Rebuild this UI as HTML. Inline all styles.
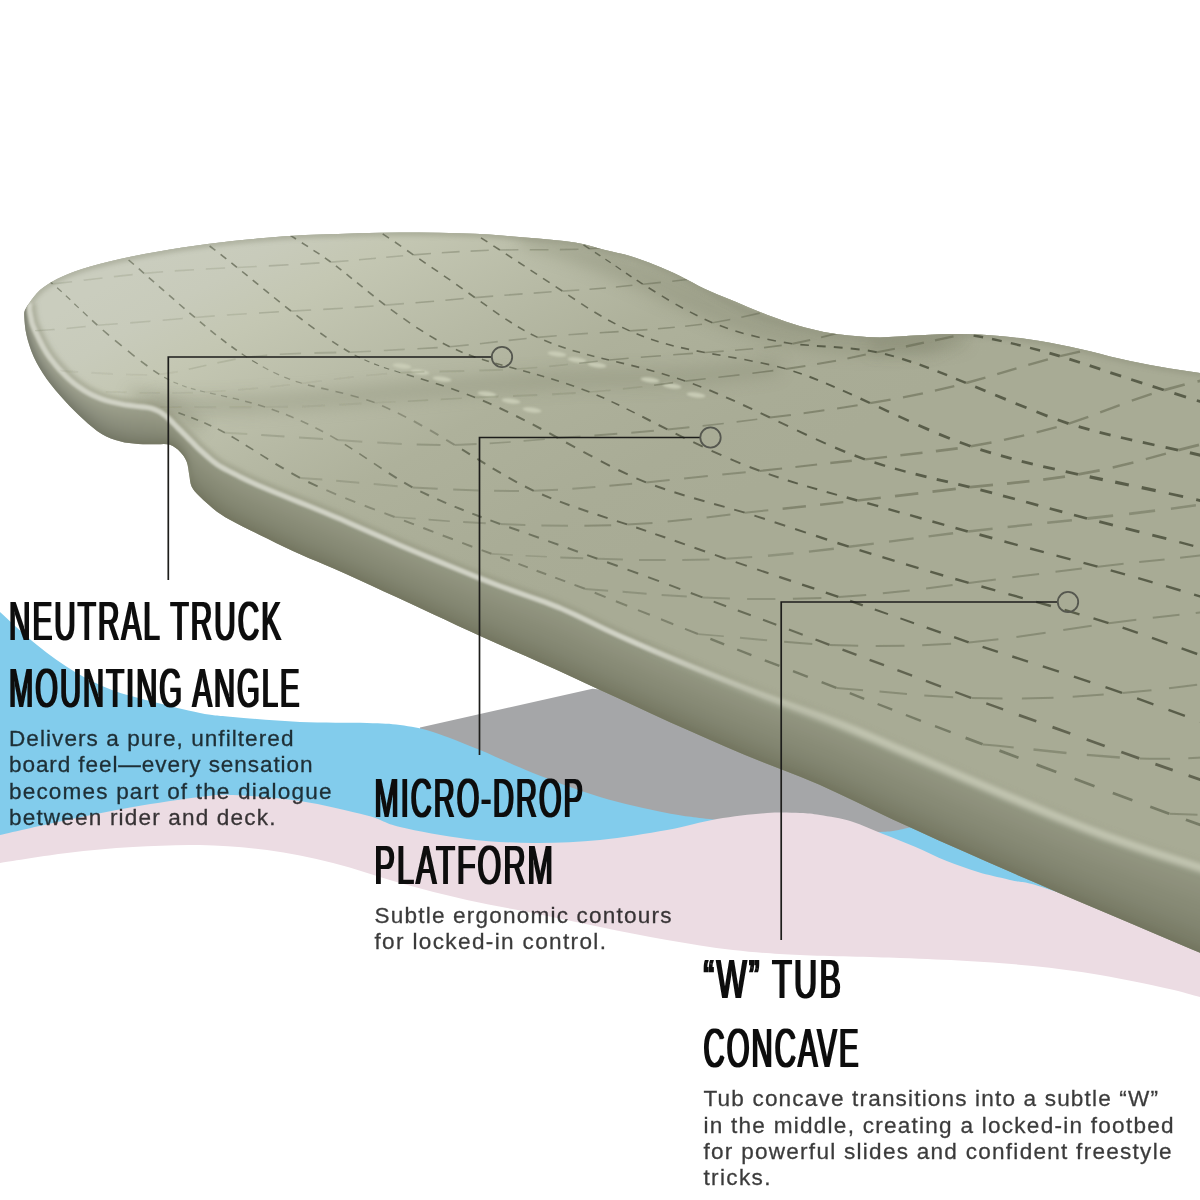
<!DOCTYPE html>
<html lang="en">
<head>
<meta charset="utf-8">
<title>Deck features</title>
<style>
html,body{margin:0;padding:0;background:#fff;}
body{width:1200px;height:1200px;overflow:hidden;}
svg{display:block;}
.h{font-family:"Liberation Sans",sans-serif;font-weight:normal;fill:#0b0b0b;filter:url(#thick);letter-spacing:0.07em;}
.b{font-family:"Liberation Sans",sans-serif;font-size:21.6px;fill:#000;stroke:#000;stroke-width:0.3;opacity:0.77;}
.ann path{fill:none;stroke:#1d1d1b;stroke-width:1.7;}
.ann circle{fill:none;stroke:#55574f;stroke-width:1.8;}
</style>
</head>
<body>
<svg width="1200" height="1200" viewBox="0 0 1200 1200">
<defs>
<linearGradient id="gFace" gradientUnits="userSpaceOnUse" x1="100" y1="288.7" x2="350" y2="721.7">
<stop offset="0" stop-color="#cacdbe"/>
<stop offset="0.1" stop-color="#c8cbbb"/>
<stop offset="0.21" stop-color="#c4c7b3"/>
<stop offset="0.45" stop-color="#b6b9a4"/>
<stop offset="0.6" stop-color="#aeb19b"/>
<stop offset="0.85" stop-color="#a9ac96"/>
<stop offset="1" stop-color="#a8ab95"/>
</linearGradient>
<linearGradient id="gs0" gradientUnits="userSpaceOnUse" x1="30" y1="0" x2="210" y2="0"><stop offset="0" stop-color="#a8ab99"/><stop offset="1" stop-color="#949783"/></linearGradient>
<linearGradient id="gs1" gradientUnits="userSpaceOnUse" x1="30" y1="0" x2="210" y2="0"><stop offset="0" stop-color="#a5a896"/><stop offset="1" stop-color="#929681"/></linearGradient>
<linearGradient id="gs2" gradientUnits="userSpaceOnUse" x1="30" y1="0" x2="210" y2="0"><stop offset="0" stop-color="#a3a694"/><stop offset="1" stop-color="#91947f"/></linearGradient>
<linearGradient id="gs3" gradientUnits="userSpaceOnUse" x1="30" y1="0" x2="210" y2="0"><stop offset="0" stop-color="#a0a391"/><stop offset="1" stop-color="#8f927d"/></linearGradient>
<linearGradient id="gs4" gradientUnits="userSpaceOnUse" x1="30" y1="0" x2="210" y2="0"><stop offset="0" stop-color="#9ea18f"/><stop offset="1" stop-color="#8e907c"/></linearGradient>
<linearGradient id="gs5" gradientUnits="userSpaceOnUse" x1="30" y1="0" x2="210" y2="0"><stop offset="0" stop-color="#9b9e8d"/><stop offset="1" stop-color="#8c8f7a"/></linearGradient>
<linearGradient id="gs6" gradientUnits="userSpaceOnUse" x1="30" y1="0" x2="210" y2="0"><stop offset="0" stop-color="#989b8a"/><stop offset="1" stop-color="#8a8d78"/></linearGradient>
<linearGradient id="gs7" gradientUnits="userSpaceOnUse" x1="30" y1="0" x2="210" y2="0"><stop offset="0" stop-color="#959888"/><stop offset="1" stop-color="#888b76"/></linearGradient>
<linearGradient id="gs8" gradientUnits="userSpaceOnUse" x1="30" y1="0" x2="210" y2="0"><stop offset="0" stop-color="#929586"/><stop offset="1" stop-color="#878a75"/></linearGradient>
<linearGradient id="gs9" gradientUnits="userSpaceOnUse" x1="30" y1="0" x2="210" y2="0"><stop offset="0" stop-color="#8f9283"/><stop offset="1" stop-color="#858873"/></linearGradient>
<linearGradient id="gs10" gradientUnits="userSpaceOnUse" x1="30" y1="0" x2="210" y2="0"><stop offset="0" stop-color="#8c8f80"/><stop offset="1" stop-color="#838671"/></linearGradient>
<linearGradient id="gs11" gradientUnits="userSpaceOnUse" x1="30" y1="0" x2="210" y2="0"><stop offset="0" stop-color="#888b7c"/><stop offset="1" stop-color="#81846f"/></linearGradient>
<linearGradient id="gs12" gradientUnits="userSpaceOnUse" x1="30" y1="0" x2="210" y2="0"><stop offset="0" stop-color="#848779"/><stop offset="1" stop-color="#7e816c"/></linearGradient>
<linearGradient id="gs13" gradientUnits="userSpaceOnUse" x1="30" y1="0" x2="210" y2="0"><stop offset="0" stop-color="#808375"/><stop offset="1" stop-color="#7b7e69"/></linearGradient>
<linearGradient id="gs14" gradientUnits="userSpaceOnUse" x1="30" y1="0" x2="210" y2="0"><stop offset="0" stop-color="#7c7f71"/><stop offset="1" stop-color="#797c66"/></linearGradient>
<linearGradient id="gs15" gradientUnits="userSpaceOnUse" x1="30" y1="0" x2="210" y2="0"><stop offset="0" stop-color="#76796a"/><stop offset="1" stop-color="#737660"/></linearGradient>
<linearGradient id="gRimA" gradientUnits="userSpaceOnUse" x1="640" y1="0" x2="860" y2="0">
<stop offset="0" stop-color="#d0d2c5" stop-opacity="1"/><stop offset="1" stop-color="#d0d2c5" stop-opacity="0"/>
</linearGradient>
<linearGradient id="gRimB" gradientUnits="userSpaceOnUse" x1="640" y1="0" x2="860" y2="0">
<stop offset="0" stop-color="#c3c6b2" stop-opacity="0"/><stop offset="1" stop-color="#c3c6b2" stop-opacity="0.95"/>
</linearGradient>
<clipPath id="cFace"><path d="M30.0,302.0 L31.6,299.8 L33.9,296.7 L36.8,293.2 L40.0,290.0 L43.6,287.2 L47.6,284.4 L52.0,281.7 L57.0,279.0 L62.4,276.4 L68.2,273.9 L74.6,271.5 L82.0,269.0 L90.3,266.5 L99.4,264.0 L109.4,261.5 L120.0,259.0 L131.7,256.5 L144.2,254.1 L157.2,251.7 L170.0,249.5 L182.5,247.5 L195.0,245.7 L207.5,244.1 L220.0,242.5 L232.5,241.1 L245.0,239.8 L257.5,238.6 L270.0,237.5 L281.8,236.6 L293.1,235.8 L305.4,235.1 L320.0,234.5 L338.0,233.9 L358.4,233.2 L379.6,232.7 L400.0,232.5 L419.7,232.5 L439.4,232.8 L458.1,233.2 L475.0,233.8 L489.3,234.5 L501.6,235.4 L513.1,236.4 L525.0,237.5 L538.0,238.6 L551.2,239.8 L563.9,241.0 L575.0,242.5 L584.0,244.2 L591.6,246.2 L598.3,248.2 L605.0,250.0 L611.6,251.5 L617.8,252.9 L623.9,254.3 L630.0,256.0 L636.2,258.0 L642.5,260.2 L648.8,262.5 L655.0,265.0 L661.2,267.6 L667.5,270.2 L673.8,273.1 L680.0,276.0 L686.2,279.2 L692.5,282.5 L698.8,285.9 L705.0,289.0 L711.2,291.8 L717.5,294.4 L723.8,296.9 L730.0,299.5 L736.2,302.1 L742.5,304.8 L748.8,307.4 L755.0,310.0 L761.2,312.5 L767.5,314.9 L773.8,317.3 L780.0,319.5 L786.2,321.7 L792.5,323.8 L798.8,325.7 L805.0,327.5 L811.2,329.1 L817.5,330.6 L823.8,331.9 L830.0,333.0 L836.2,334.0 L842.5,334.8 L848.8,335.4 L855.0,336.0 L860.9,336.5 L866.6,337.0 L872.7,337.3 L880.0,337.4 L888.9,337.1 L899.1,336.5 L909.6,335.8 L920.0,335.2 L930.0,334.8 L940.0,334.3 L950.0,334.1 L960.0,334.0 L970.0,334.2 L980.0,334.6 L990.0,335.2 L1000.0,336.0 L1010.0,337.0 L1020.0,338.1 L1030.0,339.5 L1040.0,341.0 L1050.0,342.7 L1060.0,344.7 L1070.0,346.8 L1080.0,349.0 L1090.0,351.3 L1100.0,353.8 L1110.0,356.4 L1120.0,358.7 L1130.0,360.9 L1140.0,362.9 L1150.0,364.9 L1160.0,366.7 L1170.0,368.4 L1180.0,370.0 L1190.0,371.5 L1200.0,373.0 L1210.9,374.7 L1222.5,376.4 L1232.8,377.9 L1240.0,379.0 L1250.0,884.4 L1242.1,881.7 L1230.9,877.9 L1216.8,873.2 L1200.0,867.5 L1179.4,860.7 L1155.3,852.9 L1129.8,844.3 L1105.0,835.5 L1081.2,826.4 L1057.5,816.8 L1033.8,807.0 L1010.0,797.0 L985.8,786.7 L961.2,776.1 L937.3,765.7 L915.0,756.0 L894.8,747.3 L876.2,739.2 L858.3,731.5 L840.0,724.0 L821.2,716.8 L802.5,709.9 L783.8,703.0 L765.0,696.0 L746.1,688.6 L727.2,681.1 L708.4,673.5 L690.0,666.0 L671.9,658.5 L654.1,651.0 L636.7,643.5 L620.0,636.1 L604.3,628.8 L589.4,621.6 L574.8,614.6 L560.0,608.0 L544.8,602.0 L529.4,596.6 L514.3,591.3 L500.0,586.1 L486.8,581.0 L474.4,576.1 L462.3,571.2 L450.0,566.2 L437.5,561.0 L425.0,555.9 L412.5,550.6 L400.0,545.3 L387.1,539.7 L373.9,533.9 L361.3,528.3 L350.0,523.3 L340.6,519.2 L332.5,515.8 L324.9,512.6 L317.0,509.3 L308.5,505.9 L300.0,502.5 L291.5,499.1 L283.0,495.7 L274.3,492.1 L265.4,488.4 L257.1,484.8 L250.0,481.7 L244.7,479.2 L240.6,477.2 L237.1,475.3 L233.3,473.3 L229.1,471.2 L225.0,469.1 L220.9,466.9 L216.7,464.2 L212.3,460.9 L207.8,457.0 L203.6,453.2 L200.0,450.0 L197.4,447.6 L195.5,445.7 L193.8,443.9 L192.0,442.0 L189.8,439.8 L187.6,437.6 L185.4,435.4 L183.3,433.3 L181.4,431.4 L179.6,429.6 L177.8,427.8 L176.0,426.0 L174.0,424.0 L172.0,421.9 L170.0,419.9 L168.0,418.0 L166.0,416.3 L164.1,414.8 L162.1,413.3 L160.0,412.0 L157.7,410.8 L155.2,409.7 L152.7,408.8 L150.0,408.0 L147.3,407.5 L144.7,407.2 L141.7,406.9 L138.3,406.5 L134.2,406.0 L129.6,405.4 L124.7,404.7 L120.0,403.8 L115.4,402.8 L110.9,401.8 L106.3,400.5 L101.7,399.0 L97.1,397.2 L92.5,395.1 L87.9,392.7 L83.3,390.0 L78.7,386.9 L74.1,383.5 L69.6,379.6 L65.0,375.3 L60.3,370.4 L55.5,365.0 L50.9,359.2 L46.7,353.3 L42.9,346.8 L39.3,339.7 L36.2,333.1 L33.8,327.7 L32.4,324.1 L31.7,321.8 L31.4,320.0 L31.0,318.0 L30.5,315.7 L30.0,313.3 L29.7,311.1 L29.5,309.0 L29.5,306.9 L29.7,304.9 L29.9,303.2 L30.0,302.0 Z"/></clipPath>
<clipPath id="cSil"><path d="M30.0,302.0 L31.6,299.8 L33.9,296.7 L36.8,293.2 L40.0,290.0 L43.6,287.2 L47.6,284.4 L52.0,281.7 L57.0,279.0 L62.4,276.4 L68.2,273.9 L74.6,271.5 L82.0,269.0 L90.3,266.5 L99.4,264.0 L109.4,261.5 L120.0,259.0 L131.7,256.5 L144.2,254.1 L157.2,251.7 L170.0,249.5 L182.5,247.5 L195.0,245.7 L207.5,244.1 L220.0,242.5 L232.5,241.1 L245.0,239.8 L257.5,238.6 L270.0,237.5 L281.8,236.6 L293.1,235.8 L305.4,235.1 L320.0,234.5 L338.0,233.9 L358.4,233.2 L379.6,232.7 L400.0,232.5 L419.7,232.5 L439.4,232.8 L458.1,233.2 L475.0,233.8 L489.3,234.5 L501.6,235.4 L513.1,236.4 L525.0,237.5 L538.0,238.6 L551.2,239.8 L563.9,241.0 L575.0,242.5 L584.0,244.2 L591.6,246.2 L598.3,248.2 L605.0,250.0 L611.6,251.5 L617.8,252.9 L623.9,254.3 L630.0,256.0 L636.2,258.0 L642.5,260.2 L648.8,262.5 L655.0,265.0 L661.2,267.6 L667.5,270.2 L673.8,273.1 L680.0,276.0 L686.2,279.2 L692.5,282.5 L698.8,285.9 L705.0,289.0 L711.2,291.8 L717.5,294.4 L723.8,296.9 L730.0,299.5 L736.2,302.1 L742.5,304.8 L748.8,307.4 L755.0,310.0 L761.2,312.5 L767.5,314.9 L773.8,317.3 L780.0,319.5 L786.2,321.7 L792.5,323.8 L798.8,325.7 L805.0,327.5 L811.2,329.1 L817.5,330.6 L823.8,331.9 L830.0,333.0 L836.2,334.0 L842.5,334.8 L848.8,335.4 L855.0,336.0 L860.9,336.5 L866.6,337.0 L872.7,337.3 L880.0,337.4 L888.9,337.1 L899.1,336.5 L909.6,335.8 L920.0,335.2 L930.0,334.8 L940.0,334.3 L950.0,334.1 L960.0,334.0 L970.0,334.2 L980.0,334.6 L990.0,335.2 L1000.0,336.0 L1010.0,337.0 L1020.0,338.1 L1030.0,339.5 L1040.0,341.0 L1050.0,342.7 L1060.0,344.7 L1070.0,346.8 L1080.0,349.0 L1090.0,351.3 L1100.0,353.8 L1110.0,356.4 L1120.0,358.7 L1130.0,360.9 L1140.0,362.9 L1150.0,364.9 L1160.0,366.7 L1170.0,368.4 L1180.0,370.0 L1190.0,371.5 L1200.0,373.0 L1210.9,374.7 L1222.5,376.4 L1232.8,377.9 L1240.0,379.0 L1223.5,962.6 L1215.7,959.3 L1204.7,954.7 L1190.9,948.9 L1174.4,942.0 L1154.4,933.5 L1131.0,923.6 L1106.2,913.1 L1081.9,902.8 L1058.4,892.7 L1034.9,882.6 L1011.2,872.3 L987.6,862.0 L963.4,851.3 L938.8,840.4 L914.9,829.6 L892.7,819.5 L872.9,810.1 L854.8,801.3 L837.3,792.9 L819.5,784.8 L800.9,777.0 L782.3,769.7 L763.6,762.5 L745.0,754.9 L726.2,747.0 L707.4,738.8 L688.8,730.5 L670.5,722.4 L652.6,714.2 L634.9,706.1 L617.7,698.1 L601.1,690.5 L585.5,683.2 L570.5,676.3 L555.9,669.6 L541.2,663.0 L526.2,656.3 L511.1,649.7 L496.4,643.3 L482.4,637.1 L469.4,631.1 L457.2,625.4 L445.3,619.8 L433.2,614.2 L421.0,608.5 L408.7,602.8 L396.3,597.1 L384.0,591.4 L371.2,585.5 L358.1,579.5 L345.5,573.8 L334.2,568.7 L324.8,564.7 L316.7,561.3 L309.1,558.2 L301.3,554.8 L292.9,550.9 L284.4,546.9 L276.0,542.9 L267.7,538.8 L259.3,534.7 L250.7,530.5 L242.6,526.5 L235.5,522.8 L229.9,519.8 L225.3,517.2 L221.2,514.6 L217.0,511.7 L212.4,508.1 L207.9,504.1 L203.6,500.2 L200.0,496.7 L197.2,493.9 L194.9,491.5 L193.2,489.2 L191.7,486.7 L190.7,483.9 L190.1,481.1 L189.7,478.1 L189.2,475.0 L188.7,471.7 L188.2,468.2 L187.6,464.8 L186.7,461.7 L185.4,458.9 L183.8,456.3 L182.0,453.9 L180.0,451.7 L177.8,449.6 L175.4,447.7 L172.8,446.0 L170.0,444.8 L167.0,444.2 L163.9,444.1 L160.5,444.3 L156.7,444.3 L152.5,444.3 L147.8,444.3 L143.0,444.2 L138.3,444.0 L133.7,443.6 L129.1,443.1 L124.6,442.4 L120.0,441.3 L115.4,440.0 L110.9,438.4 L106.3,436.5 L101.7,434.0 L97.1,430.9 L92.5,427.3 L87.9,423.4 L83.3,419.3 L78.7,415.1 L74.1,410.6 L69.6,405.9 L65.0,401.0 L60.3,395.8 L55.5,390.2 L50.9,384.6 L46.7,379.0 L43.0,373.5 L39.6,368.0 L36.5,362.5 L33.8,357.0 L31.5,351.4 L29.5,345.8 L27.8,340.2 L26.5,335.0 L25.5,330.0 L24.9,325.1 L24.5,320.6 L24.3,317.0 L24.2,314.5 L24.2,312.9 L24.5,311.6 L25.0,310.0 L26.1,307.9 L27.5,305.6 L29.0,303.5 L30.0,302.0 Z"/></clipPath>
<filter id="thick" x="-2%" y="-10%" width="104%" height="120%"><feMorphology operator="dilate" radius="1 0" result="d"/><feComposite in="SourceGraphic" in2="d" operator="arithmetic" k1="0" k2="0" k3="1" k4="0"/></filter>
<filter id="blur1" filterUnits="userSpaceOnUse" x="-50" y="-50" width="1300" height="1300"><feGaussianBlur stdDeviation="1.0"/></filter>
<filter id="blur2" filterUnits="userSpaceOnUse" x="-50" y="-50" width="1300" height="1300"><feGaussianBlur stdDeviation="2.2"/></filter>
<filter id="blur3" filterUnits="userSpaceOnUse" x="-50" y="-50" width="1300" height="1300"><feGaussianBlur stdDeviation="2.6"/></filter>
<filter id="blur05" filterUnits="userSpaceOnUse" x="-50" y="-50" width="1300" height="1300"><feGaussianBlur stdDeviation="0.5"/></filter>
<filter id="blur8" filterUnits="userSpaceOnUse" x="-50" y="-50" width="1300" height="1300"><feGaussianBlur stdDeviation="8"/></filter>
<filter id="blur20" filterUnits="userSpaceOnUse" x="-50" y="-50" width="1300" height="1300"><feGaussianBlur stdDeviation="20"/></filter>
</defs>
<rect width="1200" height="1200" fill="#ffffff"/>
<path d="M420.0,727.5 L592.5,688.7 L700.0,700.0 L960.0,800.0 L960.0,850.0 L700.0,850.0 L420.0,760.0 Z" fill="#a5a6a8"/>
<path d="M-10.0,602.0 C-8.3,603.7 -7.8,604.8 0.0,612.0 C7.8,619.2 24.5,635.0 37.0,645.0 C49.5,655.0 62.5,664.5 75.0,672.0 C87.5,679.5 99.5,685.2 112.0,690.0 C124.5,694.8 135.3,697.2 150.0,701.0 C164.7,704.8 186.2,710.3 200.0,713.0 C213.8,715.7 216.3,715.5 233.0,717.0 C249.7,718.5 277.7,721.0 300.0,722.0 C322.3,723.0 350.3,722.5 367.0,723.0 C383.7,723.5 389.0,723.5 400.0,725.0 C411.0,726.5 419.7,727.8 433.0,732.0 C446.3,736.2 463.3,743.2 480.0,750.0 C496.7,756.8 513.0,765.2 533.0,773.0 C553.0,780.8 577.7,790.3 600.0,797.0 C622.3,803.7 647.5,809.2 667.0,813.0 C686.5,816.8 694.8,817.2 717.0,820.0 C739.2,822.8 773.3,828.0 800.0,830.0 C826.7,832.0 858.9,832.4 877.0,832.0 C895.1,831.6 894.9,830.5 908.7,827.7 C922.5,824.9 934.8,813.0 960.0,815.0 C985.2,817.0 1043.3,835.8 1060.0,840.0 L1060.0,930.0 C1055.5,929.5 1048.5,929.3 1033.0,927.0 C1017.5,924.7 989.2,920.5 967.0,916.0 C944.8,911.5 927.8,905.3 900.0,900.0 C872.2,894.7 827.8,886.8 800.0,884.0 C772.2,881.2 755.2,882.8 733.0,883.0 C710.8,883.2 689.2,885.0 667.0,885.0 C644.8,885.0 622.3,884.2 600.0,883.0 C577.7,881.8 555.2,880.3 533.0,878.0 C510.8,875.7 489.2,873.0 467.0,869.0 C444.8,865.0 422.3,859.8 400.0,854.0 C377.7,848.2 355.2,839.2 333.0,834.0 C310.8,828.8 289.2,825.2 267.0,823.0 C244.8,820.8 222.3,820.3 200.0,821.0 C177.7,821.7 155.2,824.5 133.0,827.0 C110.8,829.5 89.2,832.3 67.0,836.0 C44.8,839.7 12.8,846.5 0.0,849.0 C-12.8,851.5 -8.3,850.7 -10.0,851.0 Z" fill="#82ccec"/>
<path d="M-10.0,838.0 C-8.3,837.5 -12.8,838.0 0.0,835.0 C12.8,832.0 44.8,824.7 67.0,820.0 C89.2,815.3 110.8,810.8 133.0,807.0 C155.2,803.2 183.3,799.0 200.0,797.0 C216.7,795.0 216.3,794.3 233.0,795.0 C249.7,795.7 277.7,797.6 300.0,801.0 C322.3,804.4 350.3,811.2 367.0,815.5 C383.7,819.8 383.3,823.1 400.0,827.0 C416.7,830.9 444.8,836.3 467.0,839.0 C489.2,841.7 510.8,842.8 533.0,843.0 C555.2,843.2 577.7,842.2 600.0,840.0 C622.3,837.8 647.5,833.5 667.0,830.0 C686.5,826.5 700.3,821.8 717.0,819.0 C733.7,816.2 753.2,814.0 767.0,813.0 C780.8,812.0 791.2,812.7 800.0,813.0 C808.8,813.3 811.4,813.6 820.0,815.0 C828.6,816.4 841.2,818.2 851.7,821.4 C862.2,824.6 872.5,829.8 883.0,834.0 C893.5,838.2 904.4,842.2 915.0,846.7 C925.6,851.2 936.2,856.8 946.7,861.0 C957.2,865.2 967.5,868.8 978.0,872.0 C988.5,875.2 997.3,876.8 1010.0,880.0 C1022.7,883.2 1020.7,879.3 1054.0,891.0 C1087.3,902.7 1184.0,940.2 1210.0,950.0 L1210.0,1000.0 C1208.3,999.5 1207.2,998.9 1200.0,997.0 C1192.8,995.1 1183.7,992.2 1167.0,988.5 C1150.3,984.8 1122.3,978.8 1100.0,975.0 C1077.7,971.2 1055.2,968.3 1033.0,966.0 C1010.8,963.7 989.2,962.3 967.0,961.0 C944.8,959.7 927.8,959.0 900.0,958.0 C872.2,957.0 827.8,956.3 800.0,955.0 C772.2,953.7 755.2,952.5 733.0,950.0 C710.8,947.5 689.2,943.8 667.0,940.0 C644.8,936.2 622.3,931.5 600.0,927.0 C577.7,922.5 555.2,917.5 533.0,913.0 C510.8,908.5 489.2,905.0 467.0,900.0 C444.8,895.0 422.3,889.2 400.0,883.0 C377.7,876.8 355.2,868.5 333.0,863.0 C310.8,857.5 289.2,853.0 267.0,850.0 C244.8,847.0 222.3,845.5 200.0,845.0 C177.7,844.5 155.2,845.7 133.0,847.0 C110.8,848.3 89.2,850.3 67.0,853.0 C44.8,855.7 12.8,861.0 0.0,863.0 C-12.8,865.0 -8.3,864.7 -10.0,865.0 Z" fill="#ecdce3"/>
<g id="board">
<path d="M30.0,302.0 L31.6,299.8 L33.9,296.7 L36.8,293.2 L40.0,290.0 L43.6,287.2 L47.6,284.4 L52.0,281.7 L57.0,279.0 L62.4,276.4 L68.2,273.9 L74.6,271.5 L82.0,269.0 L90.3,266.5 L99.4,264.0 L109.4,261.5 L120.0,259.0 L131.7,256.5 L144.2,254.1 L157.2,251.7 L170.0,249.5 L182.5,247.5 L195.0,245.7 L207.5,244.1 L220.0,242.5 L232.5,241.1 L245.0,239.8 L257.5,238.6 L270.0,237.5 L281.8,236.6 L293.1,235.8 L305.4,235.1 L320.0,234.5 L338.0,233.9 L358.4,233.2 L379.6,232.7 L400.0,232.5 L419.7,232.5 L439.4,232.8 L458.1,233.2 L475.0,233.8 L489.3,234.5 L501.6,235.4 L513.1,236.4 L525.0,237.5 L538.0,238.6 L551.2,239.8 L563.9,241.0 L575.0,242.5 L584.0,244.2 L591.6,246.2 L598.3,248.2 L605.0,250.0 L611.6,251.5 L617.8,252.9 L623.9,254.3 L630.0,256.0 L636.2,258.0 L642.5,260.2 L648.8,262.5 L655.0,265.0 L661.2,267.6 L667.5,270.2 L673.8,273.1 L680.0,276.0 L686.2,279.2 L692.5,282.5 L698.8,285.9 L705.0,289.0 L711.2,291.8 L717.5,294.4 L723.8,296.9 L730.0,299.5 L736.2,302.1 L742.5,304.8 L748.8,307.4 L755.0,310.0 L761.2,312.5 L767.5,314.9 L773.8,317.3 L780.0,319.5 L786.2,321.7 L792.5,323.8 L798.8,325.7 L805.0,327.5 L811.2,329.1 L817.5,330.6 L823.8,331.9 L830.0,333.0 L836.2,334.0 L842.5,334.8 L848.8,335.4 L855.0,336.0 L860.9,336.5 L866.6,337.0 L872.7,337.3 L880.0,337.4 L888.9,337.1 L899.1,336.5 L909.6,335.8 L920.0,335.2 L930.0,334.8 L940.0,334.3 L950.0,334.1 L960.0,334.0 L970.0,334.2 L980.0,334.6 L990.0,335.2 L1000.0,336.0 L1010.0,337.0 L1020.0,338.1 L1030.0,339.5 L1040.0,341.0 L1050.0,342.7 L1060.0,344.7 L1070.0,346.8 L1080.0,349.0 L1090.0,351.3 L1100.0,353.8 L1110.0,356.4 L1120.0,358.7 L1130.0,360.9 L1140.0,362.9 L1150.0,364.9 L1160.0,366.7 L1170.0,368.4 L1180.0,370.0 L1190.0,371.5 L1200.0,373.0 L1210.9,374.7 L1222.5,376.4 L1232.8,377.9 L1240.0,379.0 L1223.5,962.6 L1215.7,959.3 L1204.7,954.7 L1190.9,948.9 L1174.4,942.0 L1154.4,933.5 L1131.0,923.6 L1106.2,913.1 L1081.9,902.8 L1058.4,892.7 L1034.9,882.6 L1011.2,872.3 L987.6,862.0 L963.4,851.3 L938.8,840.4 L914.9,829.6 L892.7,819.5 L872.9,810.1 L854.8,801.3 L837.3,792.9 L819.5,784.8 L800.9,777.0 L782.3,769.7 L763.6,762.5 L745.0,754.9 L726.2,747.0 L707.4,738.8 L688.8,730.5 L670.5,722.4 L652.6,714.2 L634.9,706.1 L617.7,698.1 L601.1,690.5 L585.5,683.2 L570.5,676.3 L555.9,669.6 L541.2,663.0 L526.2,656.3 L511.1,649.7 L496.4,643.3 L482.4,637.1 L469.4,631.1 L457.2,625.4 L445.3,619.8 L433.2,614.2 L421.0,608.5 L408.7,602.8 L396.3,597.1 L384.0,591.4 L371.2,585.5 L358.1,579.5 L345.5,573.8 L334.2,568.7 L324.8,564.7 L316.7,561.3 L309.1,558.2 L301.3,554.8 L292.9,550.9 L284.4,546.9 L276.0,542.9 L267.7,538.8 L259.3,534.7 L250.7,530.5 L242.6,526.5 L235.5,522.8 L229.9,519.8 L225.3,517.2 L221.2,514.6 L217.0,511.7 L212.4,508.1 L207.9,504.1 L203.6,500.2 L200.0,496.7 L197.2,493.9 L194.9,491.5 L193.2,489.2 L191.7,486.7 L190.7,483.9 L190.1,481.1 L189.7,478.1 L189.2,475.0 L188.7,471.7 L188.2,468.2 L187.6,464.8 L186.7,461.7 L185.4,458.9 L183.8,456.3 L182.0,453.9 L180.0,451.7 L177.8,449.6 L175.4,447.7 L172.8,446.0 L170.0,444.8 L167.0,444.2 L163.9,444.1 L160.5,444.3 L156.7,444.3 L152.5,444.3 L147.8,444.3 L143.0,444.2 L138.3,444.0 L133.7,443.6 L129.1,443.1 L124.6,442.4 L120.0,441.3 L115.4,440.0 L110.9,438.4 L106.3,436.5 L101.7,434.0 L97.1,430.9 L92.5,427.3 L87.9,423.4 L83.3,419.3 L78.7,415.1 L74.1,410.6 L69.6,405.9 L65.0,401.0 L60.3,395.8 L55.5,390.2 L50.9,384.6 L46.7,379.0 L43.0,373.5 L39.6,368.0 L36.5,362.5 L33.8,357.0 L31.5,351.4 L29.5,345.8 L27.8,340.2 L26.5,335.0 L25.5,330.0 L24.9,325.1 L24.5,320.6 L24.3,317.0 L24.2,314.5 L24.2,312.9 L24.5,311.6 L25.0,310.0 L26.1,307.9 L27.5,305.6 L29.0,303.5 L30.0,302.0 Z" fill="url(#gs0)"/>
<g clip-path="url(#cSil)"><g filter="url(#blur2)">
<path d="M30.0,302.0 L29.8,303.2 L29.5,305.0 L29.3,307.0 L29.2,309.1 L29.4,311.1 L29.7,313.3 L30.1,315.6 L30.6,317.9 L30.9,320.0 L31.3,322.0 L31.9,324.5 L33.3,328.2 L35.7,333.5 L38.7,340.1 L42.1,347.1 L45.9,353.5 L50.0,359.4 L54.5,365.2 L59.2,370.6 L63.9,375.5 L68.4,379.9 L73.0,383.9 L77.6,387.5 L82.2,390.7 L86.8,393.6 L91.4,396.1 L96.0,398.3 L100.5,400.3 L105.1,402.0 L109.7,403.4 L114.3,404.6 L118.9,405.7 L123.6,406.6 L128.4,407.4 L133.0,408.1 L137.2,408.7 L140.7,409.1 L143.7,409.4 L146.5,409.7 L149.3,410.2 L152.1,411.0 L154.8,411.9 L157.4,412.9 L159.8,414.0 L162.0,415.2 L164.1,416.6 L166.1,418.1 L168.1,419.7 L170.2,421.5 L172.3,423.5 L174.3,425.6 L176.2,427.6 L178.1,429.5 L179.9,431.3 L181.6,433.1 L183.5,435.1 L185.5,437.2 L187.6,439.5 L189.8,441.8 L191.8,444.1 L193.6,446.0 L195.2,447.9 L197.0,449.9 L199.5,452.3 L202.9,455.5 L207.0,459.2 L211.4,462.9 L215.7,466.2 L219.8,468.9 L223.9,471.3 L228.1,473.5 L232.3,475.7 L236.1,477.8 L239.7,479.7 L243.8,481.8 L249.1,484.3 L256.2,487.4 L264.5,491.0 L273.4,494.7 L282.0,498.4 L290.5,501.8 L299.0,505.3 L307.6,508.7 L316.0,512.2 L323.9,515.5 L331.5,518.6 L339.6,522.1 L349.0,526.1 L360.3,531.1 L372.9,536.7 L386.1,542.6 L399.0,548.2 L411.5,553.5 L424.0,558.8 L436.5,564.0 L449.0,569.2 L461.2,574.2 L473.3,579.2 L485.7,584.2 L498.9,589.3 L513.2,594.6 L528.2,599.9 L543.6,605.4 L558.8,611.4 L573.6,618.0 L588.2,625.0 L603.1,632.2 L618.8,639.5 L635.5,646.9 L652.9,654.4 L670.7,662.0 L688.8,669.5 L707.2,677.1 L726.0,684.7 L744.9,692.3 L763.7,699.7 L782.5,706.8 L801.2,713.6 L820.0,720.5 L838.7,727.8 L857.0,735.3 L874.9,743.1 L893.5,751.2 L913.6,760.0 L935.9,769.7 L959.8,780.1 L984.4,790.8 L1008.6,801.1 L1032.3,811.0 L1056.1,820.9 L1079.8,830.5 L1103.6,839.7 L1128.3,848.6 L1153.8,857.3 L1177.8,865.3 L1198.4,872.2 L1215.2,877.9 L1229.3,882.7 L1240.4,886.6 L1248.3,889.3 L1220.6,971.1 L1212.8,967.8 L1201.8,963.2 L1188.0,957.4 L1171.5,950.5 L1151.4,942.0 L1128.0,932.2 L1103.2,921.7 L1078.9,911.3 L1055.5,901.3 L1031.9,891.1 L1008.3,880.8 L984.6,870.5 L960.4,859.8 L935.8,848.8 L911.9,838.1 L889.7,828.0 L869.9,818.6 L851.8,809.8 L834.4,801.4 L816.6,793.3 L798.0,785.6 L779.4,778.2 L760.7,771.0 L742.1,763.5 L723.3,755.5 L704.5,747.3 L685.9,739.0 L667.6,730.9 L649.7,722.7 L632.0,714.6 L614.8,706.6 L598.2,699.0 L582.5,691.7 L567.6,684.9 L553.0,678.2 L538.3,671.5 L523.3,664.8 L508.2,658.2 L493.5,651.8 L479.4,645.6 L466.5,639.6 L454.3,633.9 L442.4,628.3 L430.3,622.7 L418.0,617.0 L405.7,611.3 L393.4,605.6 L381.0,599.9 L368.2,594.0 L355.1,588.0 L342.6,582.3 L331.3,577.2 L321.9,573.2 L313.8,569.8 L306.2,566.7 L298.3,563.3 L289.9,559.4 L281.5,555.4 L273.1,551.4 L264.7,547.3 L256.3,543.2 L247.7,539.0 L239.6,535.0 L232.5,531.3 L226.8,528.2 L222.1,525.6 L217.8,523.0 L213.5,520.0 L208.7,516.3 L203.9,512.2 L199.5,508.2 L195.9,504.7 L193.4,502.1 L191.8,499.9 L190.7,497.8 L189.7,495.5 L189.0,492.8 L188.7,490.0 L188.6,487.0 L188.4,484.0 L188.3,480.7 L188.4,477.2 L188.3,473.8 L187.8,470.6 L186.7,467.8 L185.2,465.2 L183.4,462.8 L181.4,460.6 L179.1,458.5 L176.6,456.6 L173.8,455.0 L170.7,453.8 L167.3,453.2 L163.8,453.1 L160.0,453.2 L155.8,453.3 L151.1,453.2 L145.9,453.1 L140.6,452.9 L135.5,452.6 L130.5,452.0 L125.6,451.3 L120.7,450.5 L115.8,449.3 L111.1,447.9 L106.4,446.2 L101.8,444.2 L97.0,441.7 L92.2,438.5 L87.2,434.6 L82.3,430.4 L77.3,426.0 L72.3,421.3 L67.3,416.4 L62.3,411.2 L57.3,405.6 L52.2,399.7 L47.1,393.3 L42.2,386.9 L37.9,380.8 L34.1,375.1 L30.7,369.7 L27.7,364.5 L25.1,359.5 L23.1,354.8 L21.8,350.5 L21.0,346.1 L20.1,341.4 L18.7,335.8 L16.8,328.9 L15.6,321.5 L15.4,315.7 L15.3,312.9 L15.2,312.2 L15.5,312.4 L16.2,312.0 L17.4,310.3 L18.9,308.1 L20.4,306.0 L23.7,304.7 Z" fill="url(#gs1)"/>
<path d="M30.0,302.0 L29.8,303.2 L29.4,305.0 L29.1,307.1 L28.9,309.1 L29.0,311.2 L29.3,313.3 L29.7,315.5 L30.2,317.9 L30.5,320.1 L30.8,322.2 L31.5,324.9 L32.9,328.6 L35.1,334.0 L38.1,340.5 L41.4,347.4 L45.1,353.8 L49.1,359.6 L53.5,365.4 L58.1,370.8 L62.7,375.8 L67.2,380.2 L71.8,384.3 L76.4,388.0 L81.0,391.4 L85.6,394.4 L90.2,397.1 L94.8,399.4 L99.4,401.5 L104.0,403.4 L108.6,405.0 L113.1,406.4 L117.7,407.6 L122.4,408.6 L127.2,409.5 L131.8,410.2 L136.0,410.9 L139.6,411.3 L142.7,411.7 L145.6,412.0 L148.5,412.5 L151.5,413.2 L154.3,414.0 L157.0,415.0 L159.6,416.0 L161.9,417.2 L164.1,418.4 L166.2,419.8 L168.2,421.4 L170.4,423.1 L172.5,425.1 L174.5,427.2 L176.5,429.2 L178.4,431.1 L180.1,432.9 L181.9,434.8 L183.7,436.8 L185.7,439.1 L187.7,441.4 L189.7,443.8 L191.7,446.1 L193.3,448.2 L194.8,450.1 L196.6,452.1 L199.0,454.6 L202.3,457.7 L206.2,461.3 L210.4,465.0 L214.6,468.3 L218.7,471.0 L222.9,473.5 L227.1,475.8 L231.3,478.1 L235.1,480.2 L238.7,482.2 L242.8,484.3 L248.2,486.8 L255.3,490.0 L263.6,493.6 L272.4,497.4 L281.1,501.1 L289.5,504.6 L298.1,508.1 L306.6,511.5 L315.0,515.0 L323.0,518.3 L330.5,521.5 L338.6,524.9 L348.0,529.0 L359.3,534.0 L372.0,539.6 L385.1,545.4 L398.0,551.1 L410.5,556.4 L423.0,561.7 L435.4,567.0 L447.9,572.2 L460.1,577.3 L472.2,582.3 L484.6,587.3 L497.8,592.5 L512.1,597.8 L527.1,603.2 L542.4,608.8 L557.6,614.9 L572.4,621.4 L587.0,628.4 L601.9,635.6 L617.6,642.9 L634.3,650.3 L651.7,657.8 L669.5,665.5 L687.6,673.0 L705.9,680.7 L724.7,688.3 L743.6,695.9 L762.5,703.4 L781.2,710.5 L800.0,717.4 L818.7,724.3 L837.4,731.6 L855.7,739.2 L873.6,747.0 L892.1,755.1 L912.2,763.9 L934.5,773.7 L958.4,784.1 L983.0,794.8 L1007.2,805.1 L1030.9,815.1 L1054.7,825.0 L1078.4,834.7 L1102.1,843.9 L1126.8,852.9 L1152.3,861.7 L1176.3,869.8 L1196.8,876.8 L1213.6,882.6 L1227.7,887.5 L1238.8,891.4 L1246.7,894.2 L1220.6,971.1 L1212.8,967.8 L1201.8,963.2 L1188.0,957.4 L1171.5,950.5 L1151.4,942.0 L1128.0,932.2 L1103.2,921.7 L1078.9,911.3 L1055.5,901.3 L1031.9,891.1 L1008.3,880.8 L984.6,870.5 L960.4,859.8 L935.8,848.8 L911.9,838.1 L889.7,828.0 L869.9,818.6 L851.8,809.8 L834.4,801.4 L816.6,793.3 L798.0,785.6 L779.4,778.2 L760.7,771.0 L742.1,763.5 L723.3,755.5 L704.5,747.3 L685.9,739.0 L667.6,730.9 L649.7,722.7 L632.0,714.6 L614.8,706.6 L598.2,699.0 L582.5,691.7 L567.6,684.9 L553.0,678.2 L538.3,671.5 L523.3,664.8 L508.2,658.2 L493.5,651.8 L479.4,645.6 L466.5,639.6 L454.3,633.9 L442.4,628.3 L430.3,622.7 L418.0,617.0 L405.7,611.3 L393.4,605.6 L381.0,599.9 L368.2,594.0 L355.1,588.0 L342.6,582.3 L331.3,577.2 L321.9,573.2 L313.8,569.8 L306.2,566.7 L298.3,563.3 L289.9,559.4 L281.5,555.4 L273.1,551.4 L264.7,547.3 L256.3,543.2 L247.7,539.0 L239.6,535.0 L232.5,531.3 L226.8,528.2 L222.1,525.6 L217.8,523.0 L213.5,520.0 L208.7,516.3 L203.9,512.2 L199.5,508.2 L195.9,504.7 L193.4,502.1 L191.8,499.9 L190.7,497.8 L189.7,495.5 L189.0,492.8 L188.7,490.0 L188.6,487.0 L188.4,484.0 L188.3,480.7 L188.4,477.2 L188.3,473.8 L187.8,470.6 L186.7,467.8 L185.2,465.2 L183.4,462.8 L181.4,460.6 L179.1,458.5 L176.6,456.6 L173.8,455.0 L170.7,453.8 L167.3,453.2 L163.8,453.1 L160.0,453.2 L155.8,453.3 L151.1,453.2 L145.9,453.1 L140.6,452.9 L135.5,452.6 L130.5,452.0 L125.6,451.3 L120.7,450.5 L115.8,449.3 L111.1,447.9 L106.4,446.2 L101.8,444.2 L97.0,441.7 L92.2,438.5 L87.2,434.6 L82.3,430.4 L77.3,426.0 L72.3,421.3 L67.3,416.4 L62.3,411.2 L57.3,405.6 L52.2,399.7 L47.1,393.3 L42.2,386.9 L37.9,380.8 L34.1,375.1 L30.7,369.7 L27.7,364.5 L25.1,359.5 L23.1,354.8 L21.8,350.5 L21.0,346.1 L20.1,341.4 L18.7,335.8 L16.8,328.9 L15.6,321.5 L15.4,315.7 L15.3,312.9 L15.2,312.2 L15.5,312.4 L16.2,312.0 L17.4,310.3 L18.9,308.1 L20.4,306.0 L23.7,304.7 Z" fill="url(#gs2)"/>
<path d="M30.0,302.0 L29.7,303.3 L29.3,305.1 L28.9,307.1 L28.7,309.2 L28.7,311.2 L28.9,313.2 L29.3,315.4 L29.7,317.8 L30.1,320.1 L30.4,322.4 L31.1,325.2 L32.4,329.1 L34.6,334.4 L37.4,340.9 L40.7,347.6 L44.3,354.0 L48.2,359.8 L52.5,365.5 L57.0,371.0 L61.6,376.0 L66.1,380.6 L70.7,384.7 L75.3,388.6 L79.9,392.1 L84.5,395.2 L89.1,398.0 L93.7,400.5 L98.2,402.8 L102.8,404.8 L107.4,406.6 L112.0,408.1 L116.6,409.5 L121.3,410.6 L126.1,411.6 L130.7,412.3 L134.9,413.0 L138.5,413.5 L141.8,413.9 L144.8,414.3 L147.8,414.8 L150.9,415.4 L153.8,416.2 L156.7,417.1 L159.4,418.1 L161.8,419.1 L164.1,420.3 L166.2,421.5 L168.4,423.0 L170.5,424.8 L172.7,426.7 L174.8,428.8 L176.8,430.8 L178.6,432.7 L180.4,434.6 L182.1,436.5 L183.9,438.6 L185.8,440.9 L187.7,443.4 L189.6,445.8 L191.5,448.2 L193.1,450.3 L194.5,452.3 L196.1,454.4 L198.4,456.9 L201.6,460.0 L205.4,463.5 L209.5,467.1 L213.6,470.3 L217.6,473.1 L221.8,475.7 L226.0,478.1 L230.2,480.5 L234.1,482.7 L237.8,484.7 L241.9,486.8 L247.3,489.4 L254.4,492.6 L262.7,496.3 L271.5,500.1 L280.1,503.8 L288.6,507.3 L297.1,510.8 L305.6,514.3 L314.0,517.9 L322.0,521.2 L329.5,524.3 L337.6,527.8 L347.0,531.8 L358.3,536.8 L371.0,542.4 L384.1,548.3 L397.0,553.9 L409.5,559.3 L421.9,564.7 L434.4,569.9 L446.9,575.2 L459.1,580.3 L471.2,585.3 L483.5,590.4 L496.7,595.7 L510.9,601.1 L526.0,606.5 L541.3,612.2 L556.5,618.3 L571.2,624.9 L585.8,631.8 L600.8,639.0 L616.5,646.3 L633.1,653.7 L650.5,661.3 L668.3,668.9 L686.4,676.6 L704.7,684.2 L723.5,691.9 L742.4,699.6 L761.2,707.1 L780.0,714.2 L798.7,721.1 L817.4,728.1 L836.1,735.4 L854.4,743.0 L872.2,750.8 L890.7,759.1 L910.8,767.9 L933.1,777.7 L957.0,788.1 L981.6,798.8 L1005.8,809.2 L1029.5,819.2 L1053.3,829.1 L1077.0,838.8 L1100.7,848.1 L1125.4,857.2 L1150.7,866.1 L1174.7,874.4 L1195.2,881.5 L1212.0,887.4 L1226.0,892.3 L1237.1,896.3 L1245.0,899.1 L1220.6,971.1 L1212.8,967.8 L1201.8,963.2 L1188.0,957.4 L1171.5,950.5 L1151.4,942.0 L1128.0,932.2 L1103.2,921.7 L1078.9,911.3 L1055.5,901.3 L1031.9,891.1 L1008.3,880.8 L984.6,870.5 L960.4,859.8 L935.8,848.8 L911.9,838.1 L889.7,828.0 L869.9,818.6 L851.8,809.8 L834.4,801.4 L816.6,793.3 L798.0,785.6 L779.4,778.2 L760.7,771.0 L742.1,763.5 L723.3,755.5 L704.5,747.3 L685.9,739.0 L667.6,730.9 L649.7,722.7 L632.0,714.6 L614.8,706.6 L598.2,699.0 L582.5,691.7 L567.6,684.9 L553.0,678.2 L538.3,671.5 L523.3,664.8 L508.2,658.2 L493.5,651.8 L479.4,645.6 L466.5,639.6 L454.3,633.9 L442.4,628.3 L430.3,622.7 L418.0,617.0 L405.7,611.3 L393.4,605.6 L381.0,599.9 L368.2,594.0 L355.1,588.0 L342.6,582.3 L331.3,577.2 L321.9,573.2 L313.8,569.8 L306.2,566.7 L298.3,563.3 L289.9,559.4 L281.5,555.4 L273.1,551.4 L264.7,547.3 L256.3,543.2 L247.7,539.0 L239.6,535.0 L232.5,531.3 L226.8,528.2 L222.1,525.6 L217.8,523.0 L213.5,520.0 L208.7,516.3 L203.9,512.2 L199.5,508.2 L195.9,504.7 L193.4,502.1 L191.8,499.9 L190.7,497.8 L189.7,495.5 L189.0,492.8 L188.7,490.0 L188.6,487.0 L188.4,484.0 L188.3,480.7 L188.4,477.2 L188.3,473.8 L187.8,470.6 L186.7,467.8 L185.2,465.2 L183.4,462.8 L181.4,460.6 L179.1,458.5 L176.6,456.6 L173.8,455.0 L170.7,453.8 L167.3,453.2 L163.8,453.1 L160.0,453.2 L155.8,453.3 L151.1,453.2 L145.9,453.1 L140.6,452.9 L135.5,452.6 L130.5,452.0 L125.6,451.3 L120.7,450.5 L115.8,449.3 L111.1,447.9 L106.4,446.2 L101.8,444.2 L97.0,441.7 L92.2,438.5 L87.2,434.6 L82.3,430.4 L77.3,426.0 L72.3,421.3 L67.3,416.4 L62.3,411.2 L57.3,405.6 L52.2,399.7 L47.1,393.3 L42.2,386.9 L37.9,380.8 L34.1,375.1 L30.7,369.7 L27.7,364.5 L25.1,359.5 L23.1,354.8 L21.8,350.5 L21.0,346.1 L20.1,341.4 L18.7,335.8 L16.8,328.9 L15.6,321.5 L15.4,315.7 L15.3,312.9 L15.2,312.2 L15.5,312.4 L16.2,312.0 L17.4,310.3 L18.9,308.1 L20.4,306.0 L23.7,304.7 Z" fill="url(#gs3)"/>
<path d="M30.0,302.0 L29.6,303.3 L29.1,305.1 L28.6,307.2 L28.4,309.2 L28.4,311.2 L28.6,313.2 L28.9,315.4 L29.3,317.8 L29.7,320.2 L30.0,322.6 L30.7,325.6 L32.0,329.5 L34.1,334.9 L36.8,341.2 L40.0,347.9 L43.5,354.2 L47.3,360.0 L51.5,365.7 L56.0,371.2 L60.4,376.2 L64.9,380.9 L69.5,385.2 L74.1,389.1 L78.7,392.8 L83.3,396.0 L87.9,399.0 L92.5,401.7 L97.1,404.1 L101.7,406.3 L106.3,408.2 L110.8,409.9 L115.4,411.4 L120.1,412.6 L124.9,413.6 L129.5,414.5 L133.7,415.2 L137.4,415.8 L140.8,416.1 L143.9,416.5 L147.1,417.0 L150.3,417.6 L153.4,418.4 L156.4,419.2 L159.2,420.1 L161.7,421.0 L164.1,422.1 L166.3,423.3 L168.5,424.7 L170.7,426.4 L172.9,428.4 L175.0,430.4 L177.0,432.4 L178.9,434.4 L180.7,436.3 L182.4,438.3 L184.2,440.4 L185.9,442.8 L187.8,445.3 L189.5,447.8 L191.3,450.2 L192.8,452.4 L194.1,454.5 L195.7,456.7 L197.9,459.2 L201.0,462.2 L204.6,465.6 L208.5,469.1 L212.5,472.3 L216.5,475.2 L220.7,477.9 L225.0,480.4 L229.2,482.9 L233.1,485.1 L236.8,487.2 L241.0,489.4 L246.4,492.0 L253.5,495.2 L261.7,498.9 L270.5,502.7 L279.2,506.5 L287.6,510.0 L296.1,513.6 L304.6,517.2 L313.1,520.7 L321.0,524.0 L328.6,527.2 L336.6,530.6 L346.1,534.7 L357.4,539.6 L370.0,545.3 L383.1,551.1 L396.0,556.8 L408.5,562.2 L420.9,567.6 L433.4,572.9 L445.8,578.2 L458.0,583.3 L470.1,588.4 L482.5,593.6 L495.6,598.9 L509.8,604.3 L524.8,609.8 L540.1,615.6 L555.3,621.7 L570.0,628.3 L584.7,635.3 L599.6,642.4 L615.3,649.7 L631.9,657.1 L649.3,664.7 L667.1,672.4 L685.1,680.1 L703.5,687.8 L722.2,695.5 L741.2,703.2 L760.0,710.7 L778.7,717.9 L797.4,724.8 L816.2,731.8 L834.9,739.2 L853.0,746.9 L870.9,754.7 L889.4,763.0 L909.4,771.9 L931.7,781.7 L955.6,792.2 L980.2,802.9 L1004.4,813.2 L1028.1,823.3 L1051.8,833.3 L1075.5,843.0 L1099.2,852.3 L1123.9,861.5 L1149.2,870.5 L1173.2,878.9 L1193.6,886.1 L1210.3,892.1 L1224.4,897.1 L1235.5,901.1 L1243.4,903.9 L1220.6,971.1 L1212.8,967.8 L1201.8,963.2 L1188.0,957.4 L1171.5,950.5 L1151.4,942.0 L1128.0,932.2 L1103.2,921.7 L1078.9,911.3 L1055.5,901.3 L1031.9,891.1 L1008.3,880.8 L984.6,870.5 L960.4,859.8 L935.8,848.8 L911.9,838.1 L889.7,828.0 L869.9,818.6 L851.8,809.8 L834.4,801.4 L816.6,793.3 L798.0,785.6 L779.4,778.2 L760.7,771.0 L742.1,763.5 L723.3,755.5 L704.5,747.3 L685.9,739.0 L667.6,730.9 L649.7,722.7 L632.0,714.6 L614.8,706.6 L598.2,699.0 L582.5,691.7 L567.6,684.9 L553.0,678.2 L538.3,671.5 L523.3,664.8 L508.2,658.2 L493.5,651.8 L479.4,645.6 L466.5,639.6 L454.3,633.9 L442.4,628.3 L430.3,622.7 L418.0,617.0 L405.7,611.3 L393.4,605.6 L381.0,599.9 L368.2,594.0 L355.1,588.0 L342.6,582.3 L331.3,577.2 L321.9,573.2 L313.8,569.8 L306.2,566.7 L298.3,563.3 L289.9,559.4 L281.5,555.4 L273.1,551.4 L264.7,547.3 L256.3,543.2 L247.7,539.0 L239.6,535.0 L232.5,531.3 L226.8,528.2 L222.1,525.6 L217.8,523.0 L213.5,520.0 L208.7,516.3 L203.9,512.2 L199.5,508.2 L195.9,504.7 L193.4,502.1 L191.8,499.9 L190.7,497.8 L189.7,495.5 L189.0,492.8 L188.7,490.0 L188.6,487.0 L188.4,484.0 L188.3,480.7 L188.4,477.2 L188.3,473.8 L187.8,470.6 L186.7,467.8 L185.2,465.2 L183.4,462.8 L181.4,460.6 L179.1,458.5 L176.6,456.6 L173.8,455.0 L170.7,453.8 L167.3,453.2 L163.8,453.1 L160.0,453.2 L155.8,453.3 L151.1,453.2 L145.9,453.1 L140.6,452.9 L135.5,452.6 L130.5,452.0 L125.6,451.3 L120.7,450.5 L115.8,449.3 L111.1,447.9 L106.4,446.2 L101.8,444.2 L97.0,441.7 L92.2,438.5 L87.2,434.6 L82.3,430.4 L77.3,426.0 L72.3,421.3 L67.3,416.4 L62.3,411.2 L57.3,405.6 L52.2,399.7 L47.1,393.3 L42.2,386.9 L37.9,380.8 L34.1,375.1 L30.7,369.7 L27.7,364.5 L25.1,359.5 L23.1,354.8 L21.8,350.5 L21.0,346.1 L20.1,341.4 L18.7,335.8 L16.8,328.9 L15.6,321.5 L15.4,315.7 L15.3,312.9 L15.2,312.2 L15.5,312.4 L16.2,312.0 L17.4,310.3 L18.9,308.1 L20.4,306.0 L23.7,304.7 Z" fill="url(#gs4)"/>
<path d="M30.0,302.0 L29.6,303.3 L29.0,305.1 L28.4,307.2 L28.1,309.3 L28.1,311.2 L28.2,313.2 L28.5,315.3 L28.9,317.7 L29.2,320.2 L29.6,322.8 L30.2,326.0 L31.5,330.0 L33.6,335.3 L36.2,341.6 L39.3,348.2 L42.7,354.5 L46.4,360.2 L50.5,365.9 L54.9,371.4 L59.3,376.5 L63.7,381.2 L68.3,385.6 L73.0,389.7 L77.6,393.4 L82.2,396.9 L86.8,400.0 L91.4,402.8 L96.0,405.3 L100.5,407.7 L105.1,409.8 L109.7,411.6 L114.3,413.2 L119.0,414.6 L123.7,415.7 L128.3,416.6 L132.6,417.4 L136.4,418.0 L139.8,418.4 L143.1,418.8 L146.3,419.2 L149.6,419.9 L152.9,420.5 L156.0,421.3 L159.0,422.1 L161.6,423.0 L164.0,423.9 L166.4,425.0 L168.6,426.4 L170.9,428.0 L173.1,430.0 L175.2,432.0 L177.2,434.0 L179.1,436.0 L180.9,437.9 L182.6,440.0 L184.4,442.2 L186.1,444.6 L187.8,447.2 L189.5,449.8 L191.1,452.3 L192.5,454.6 L193.8,456.7 L195.3,458.9 L197.4,461.5 L200.3,464.5 L203.8,467.8 L207.6,471.2 L211.5,474.4 L215.5,477.3 L219.6,480.1 L223.9,482.7 L228.2,485.3 L232.1,487.6 L235.8,489.7 L240.1,491.9 L245.5,494.5 L252.5,497.8 L260.8,501.5 L269.6,505.4 L278.2,509.2 L286.6,512.8 L295.1,516.4 L303.7,520.0 L312.1,523.5 L320.0,526.9 L327.6,530.0 L335.7,533.4 L345.1,537.5 L356.4,542.5 L369.0,548.1 L382.1,554.0 L395.0,559.7 L407.4,565.1 L419.9,570.5 L432.3,575.9 L444.8,581.2 L457.0,586.4 L469.0,591.5 L481.4,596.7 L494.5,602.0 L508.7,607.6 L523.7,613.2 L539.0,619.0 L554.1,625.2 L568.9,631.8 L583.5,638.7 L598.4,645.8 L614.1,653.1 L630.8,660.6 L648.1,668.2 L665.9,675.9 L683.9,683.6 L702.3,691.3 L721.0,699.1 L739.9,706.9 L758.7,714.4 L777.5,721.6 L796.2,728.6 L814.9,735.6 L833.6,743.0 L851.7,750.7 L869.5,758.6 L888.0,766.9 L908.0,775.8 L930.3,785.7 L954.2,796.2 L978.8,806.9 L1003.0,817.3 L1026.7,827.4 L1050.4,837.4 L1074.1,847.1 L1097.8,856.5 L1122.4,865.8 L1147.7,875.0 L1171.6,883.5 L1192.0,890.8 L1208.7,896.8 L1222.7,901.9 L1233.8,906.0 L1241.7,908.8 L1220.6,971.1 L1212.8,967.8 L1201.8,963.2 L1188.0,957.4 L1171.5,950.5 L1151.4,942.0 L1128.0,932.2 L1103.2,921.7 L1078.9,911.3 L1055.5,901.3 L1031.9,891.1 L1008.3,880.8 L984.6,870.5 L960.4,859.8 L935.8,848.8 L911.9,838.1 L889.7,828.0 L869.9,818.6 L851.8,809.8 L834.4,801.4 L816.6,793.3 L798.0,785.6 L779.4,778.2 L760.7,771.0 L742.1,763.5 L723.3,755.5 L704.5,747.3 L685.9,739.0 L667.6,730.9 L649.7,722.7 L632.0,714.6 L614.8,706.6 L598.2,699.0 L582.5,691.7 L567.6,684.9 L553.0,678.2 L538.3,671.5 L523.3,664.8 L508.2,658.2 L493.5,651.8 L479.4,645.6 L466.5,639.6 L454.3,633.9 L442.4,628.3 L430.3,622.7 L418.0,617.0 L405.7,611.3 L393.4,605.6 L381.0,599.9 L368.2,594.0 L355.1,588.0 L342.6,582.3 L331.3,577.2 L321.9,573.2 L313.8,569.8 L306.2,566.7 L298.3,563.3 L289.9,559.4 L281.5,555.4 L273.1,551.4 L264.7,547.3 L256.3,543.2 L247.7,539.0 L239.6,535.0 L232.5,531.3 L226.8,528.2 L222.1,525.6 L217.8,523.0 L213.5,520.0 L208.7,516.3 L203.9,512.2 L199.5,508.2 L195.9,504.7 L193.4,502.1 L191.8,499.9 L190.7,497.8 L189.7,495.5 L189.0,492.8 L188.7,490.0 L188.6,487.0 L188.4,484.0 L188.3,480.7 L188.4,477.2 L188.3,473.8 L187.8,470.6 L186.7,467.8 L185.2,465.2 L183.4,462.8 L181.4,460.6 L179.1,458.5 L176.6,456.6 L173.8,455.0 L170.7,453.8 L167.3,453.2 L163.8,453.1 L160.0,453.2 L155.8,453.3 L151.1,453.2 L145.9,453.1 L140.6,452.9 L135.5,452.6 L130.5,452.0 L125.6,451.3 L120.7,450.5 L115.8,449.3 L111.1,447.9 L106.4,446.2 L101.8,444.2 L97.0,441.7 L92.2,438.5 L87.2,434.6 L82.3,430.4 L77.3,426.0 L72.3,421.3 L67.3,416.4 L62.3,411.2 L57.3,405.6 L52.2,399.7 L47.1,393.3 L42.2,386.9 L37.9,380.8 L34.1,375.1 L30.7,369.7 L27.7,364.5 L25.1,359.5 L23.1,354.8 L21.8,350.5 L21.0,346.1 L20.1,341.4 L18.7,335.8 L16.8,328.9 L15.6,321.5 L15.4,315.7 L15.3,312.9 L15.2,312.2 L15.5,312.4 L16.2,312.0 L17.4,310.3 L18.9,308.1 L20.4,306.0 L23.7,304.7 Z" fill="url(#gs5)"/>
<path d="M30.0,302.0 L29.5,303.3 L28.9,305.2 L28.2,307.3 L27.8,309.4 L27.7,311.3 L27.9,313.2 L28.1,315.2 L28.5,317.6 L28.8,320.2 L29.1,323.0 L29.8,326.3 L31.1,330.4 L33.1,335.7 L35.6,342.0 L38.6,348.5 L41.9,354.7 L45.5,360.5 L49.5,366.1 L53.8,371.6 L58.1,376.7 L62.6,381.5 L67.2,386.0 L71.8,390.2 L76.4,394.1 L81.0,397.7 L85.6,400.9 L90.2,403.9 L94.8,406.6 L99.4,409.1 L104.0,411.4 L108.6,413.4 L113.1,415.1 L117.8,416.6 L122.5,417.7 L127.2,418.7 L131.4,419.6 L135.3,420.2 L138.8,420.6 L142.2,421.0 L145.6,421.5 L149.0,422.1 L152.4,422.7 L155.7,423.4 L158.8,424.1 L161.5,424.9 L164.0,425.8 L166.4,426.8 L168.8,428.1 L171.1,429.7 L173.3,431.6 L175.5,433.6 L177.5,435.6 L179.4,437.6 L181.2,439.6 L182.9,441.7 L184.6,443.9 L186.2,446.4 L187.8,449.1 L189.4,451.8 L190.9,454.4 L192.3,456.7 L193.5,458.9 L194.9,461.2 L196.9,463.8 L199.7,466.7 L203.0,470.0 L206.6,473.2 L210.4,476.4 L214.4,479.4 L218.6,482.2 L222.9,485.0 L227.2,487.7 L231.1,490.1 L234.9,492.2 L239.1,494.4 L244.6,497.1 L251.6,500.4 L259.9,504.2 L268.7,508.1 L277.3,511.9 L285.7,515.5 L294.2,519.2 L302.7,522.8 L311.1,526.4 L319.0,529.7 L326.6,532.9 L334.7,536.3 L344.1,540.3 L355.4,545.3 L368.0,551.0 L381.1,556.9 L394.0,562.6 L406.4,568.0 L418.9,573.5 L431.3,578.8 L443.7,584.2 L455.9,589.4 L467.9,594.6 L480.3,599.8 L493.4,605.2 L507.6,610.8 L522.5,616.5 L537.8,622.4 L552.9,628.6 L567.7,635.2 L582.3,642.1 L597.2,649.2 L612.9,656.5 L629.6,664.0 L646.9,671.6 L664.7,679.4 L682.7,687.1 L701.0,694.9 L719.8,702.7 L738.7,710.5 L757.5,718.1 L776.2,725.3 L794.9,732.3 L813.6,739.4 L832.3,746.8 L850.4,754.5 L868.2,762.5 L886.6,770.9 L906.6,779.8 L928.9,789.6 L952.8,800.2 L977.4,810.9 L1001.6,821.4 L1025.3,831.5 L1049.0,841.5 L1072.7,851.3 L1096.3,860.7 L1120.9,870.1 L1146.2,879.4 L1170.0,888.0 L1190.4,895.4 L1207.1,901.6 L1221.1,906.7 L1232.2,910.8 L1240.0,913.7 L1220.6,971.1 L1212.8,967.8 L1201.8,963.2 L1188.0,957.4 L1171.5,950.5 L1151.4,942.0 L1128.0,932.2 L1103.2,921.7 L1078.9,911.3 L1055.5,901.3 L1031.9,891.1 L1008.3,880.8 L984.6,870.5 L960.4,859.8 L935.8,848.8 L911.9,838.1 L889.7,828.0 L869.9,818.6 L851.8,809.8 L834.4,801.4 L816.6,793.3 L798.0,785.6 L779.4,778.2 L760.7,771.0 L742.1,763.5 L723.3,755.5 L704.5,747.3 L685.9,739.0 L667.6,730.9 L649.7,722.7 L632.0,714.6 L614.8,706.6 L598.2,699.0 L582.5,691.7 L567.6,684.9 L553.0,678.2 L538.3,671.5 L523.3,664.8 L508.2,658.2 L493.5,651.8 L479.4,645.6 L466.5,639.6 L454.3,633.9 L442.4,628.3 L430.3,622.7 L418.0,617.0 L405.7,611.3 L393.4,605.6 L381.0,599.9 L368.2,594.0 L355.1,588.0 L342.6,582.3 L331.3,577.2 L321.9,573.2 L313.8,569.8 L306.2,566.7 L298.3,563.3 L289.9,559.4 L281.5,555.4 L273.1,551.4 L264.7,547.3 L256.3,543.2 L247.7,539.0 L239.6,535.0 L232.5,531.3 L226.8,528.2 L222.1,525.6 L217.8,523.0 L213.5,520.0 L208.7,516.3 L203.9,512.2 L199.5,508.2 L195.9,504.7 L193.4,502.1 L191.8,499.9 L190.7,497.8 L189.7,495.5 L189.0,492.8 L188.7,490.0 L188.6,487.0 L188.4,484.0 L188.3,480.7 L188.4,477.2 L188.3,473.8 L187.8,470.6 L186.7,467.8 L185.2,465.2 L183.4,462.8 L181.4,460.6 L179.1,458.5 L176.6,456.6 L173.8,455.0 L170.7,453.8 L167.3,453.2 L163.8,453.1 L160.0,453.2 L155.8,453.3 L151.1,453.2 L145.9,453.1 L140.6,452.9 L135.5,452.6 L130.5,452.0 L125.6,451.3 L120.7,450.5 L115.8,449.3 L111.1,447.9 L106.4,446.2 L101.8,444.2 L97.0,441.7 L92.2,438.5 L87.2,434.6 L82.3,430.4 L77.3,426.0 L72.3,421.3 L67.3,416.4 L62.3,411.2 L57.3,405.6 L52.2,399.7 L47.1,393.3 L42.2,386.9 L37.9,380.8 L34.1,375.1 L30.7,369.7 L27.7,364.5 L25.1,359.5 L23.1,354.8 L21.8,350.5 L21.0,346.1 L20.1,341.4 L18.7,335.8 L16.8,328.9 L15.6,321.5 L15.4,315.7 L15.3,312.9 L15.2,312.2 L15.5,312.4 L16.2,312.0 L17.4,310.3 L18.9,308.1 L20.4,306.0 L23.7,304.7 Z" fill="url(#gs6)"/>
<path d="M30.0,302.0 L29.5,303.3 L28.7,305.2 L28.0,307.4 L27.5,309.4 L27.4,311.3 L27.5,313.1 L27.7,315.1 L28.1,317.6 L28.4,320.3 L28.7,323.2 L29.4,326.7 L30.6,330.9 L32.5,336.2 L35.0,342.4 L37.9,348.8 L41.1,354.9 L44.6,360.7 L48.5,366.3 L52.7,371.8 L57.0,376.9 L61.4,381.8 L66.0,386.4 L70.7,390.8 L75.3,394.8 L79.9,398.5 L84.5,401.9 L89.1,405.0 L93.7,407.9 L98.2,410.5 L102.8,413.0 L107.4,415.1 L112.0,417.0 L116.7,418.6 L121.4,419.8 L126.0,420.8 L130.3,421.7 L134.2,422.4 L137.9,422.9 L141.4,423.3 L144.9,423.8 L148.4,424.3 L152.0,424.8 L155.4,425.4 L158.6,426.1 L161.4,426.9 L164.0,427.6 L166.5,428.5 L168.9,429.7 L171.2,431.3 L173.5,433.2 L175.7,435.2 L177.8,437.2 L179.7,439.2 L181.4,441.3 L183.1,443.4 L184.8,445.7 L186.4,448.3 L187.9,451.0 L189.3,453.8 L190.8,456.4 L192.0,458.9 L193.1,461.1 L194.5,463.5 L196.4,466.1 L199.0,469.0 L202.2,472.1 L205.7,475.3 L209.4,478.4 L213.3,481.4 L217.5,484.4 L221.8,487.3 L226.2,490.1 L230.1,492.5 L233.9,494.7 L238.2,497.0 L243.7,499.7 L250.7,503.0 L259.0,506.8 L267.7,510.7 L276.3,514.6 L284.7,518.3 L293.2,521.9 L301.7,525.6 L310.1,529.2 L318.0,532.6 L325.6,535.7 L333.7,539.1 L343.1,543.2 L354.4,548.2 L367.0,553.8 L380.1,559.7 L393.0,565.5 L405.4,570.9 L417.8,576.4 L430.3,581.8 L442.7,587.2 L454.9,592.5 L466.9,597.7 L479.2,602.9 L492.3,608.4 L506.5,614.1 L521.4,619.8 L536.6,625.8 L551.8,632.1 L566.5,638.7 L581.1,645.5 L596.1,652.6 L611.8,659.9 L628.4,667.4 L645.7,675.1 L663.5,682.9 L681.5,690.7 L699.8,698.5 L718.5,706.3 L737.4,714.2 L756.2,721.8 L774.9,729.0 L793.7,736.1 L812.4,743.1 L831.0,750.6 L849.1,758.4 L866.9,766.4 L885.2,774.8 L905.2,783.8 L927.5,793.6 L951.4,804.2 L976.0,815.0 L1000.2,825.4 L1023.9,835.6 L1047.6,845.6 L1071.3,855.4 L1094.9,864.9 L1119.5,874.4 L1144.7,883.8 L1168.5,892.6 L1188.8,900.1 L1205.5,906.3 L1219.5,911.5 L1230.5,915.7 L1238.4,918.6 L1220.6,971.1 L1212.8,967.8 L1201.8,963.2 L1188.0,957.4 L1171.5,950.5 L1151.4,942.0 L1128.0,932.2 L1103.2,921.7 L1078.9,911.3 L1055.5,901.3 L1031.9,891.1 L1008.3,880.8 L984.6,870.5 L960.4,859.8 L935.8,848.8 L911.9,838.1 L889.7,828.0 L869.9,818.6 L851.8,809.8 L834.4,801.4 L816.6,793.3 L798.0,785.6 L779.4,778.2 L760.7,771.0 L742.1,763.5 L723.3,755.5 L704.5,747.3 L685.9,739.0 L667.6,730.9 L649.7,722.7 L632.0,714.6 L614.8,706.6 L598.2,699.0 L582.5,691.7 L567.6,684.9 L553.0,678.2 L538.3,671.5 L523.3,664.8 L508.2,658.2 L493.5,651.8 L479.4,645.6 L466.5,639.6 L454.3,633.9 L442.4,628.3 L430.3,622.7 L418.0,617.0 L405.7,611.3 L393.4,605.6 L381.0,599.9 L368.2,594.0 L355.1,588.0 L342.6,582.3 L331.3,577.2 L321.9,573.2 L313.8,569.8 L306.2,566.7 L298.3,563.3 L289.9,559.4 L281.5,555.4 L273.1,551.4 L264.7,547.3 L256.3,543.2 L247.7,539.0 L239.6,535.0 L232.5,531.3 L226.8,528.2 L222.1,525.6 L217.8,523.0 L213.5,520.0 L208.7,516.3 L203.9,512.2 L199.5,508.2 L195.9,504.7 L193.4,502.1 L191.8,499.9 L190.7,497.8 L189.7,495.5 L189.0,492.8 L188.7,490.0 L188.6,487.0 L188.4,484.0 L188.3,480.7 L188.4,477.2 L188.3,473.8 L187.8,470.6 L186.7,467.8 L185.2,465.2 L183.4,462.8 L181.4,460.6 L179.1,458.5 L176.6,456.6 L173.8,455.0 L170.7,453.8 L167.3,453.2 L163.8,453.1 L160.0,453.2 L155.8,453.3 L151.1,453.2 L145.9,453.1 L140.6,452.9 L135.5,452.6 L130.5,452.0 L125.6,451.3 L120.7,450.5 L115.8,449.3 L111.1,447.9 L106.4,446.2 L101.8,444.2 L97.0,441.7 L92.2,438.5 L87.2,434.6 L82.3,430.4 L77.3,426.0 L72.3,421.3 L67.3,416.4 L62.3,411.2 L57.3,405.6 L52.2,399.7 L47.1,393.3 L42.2,386.9 L37.9,380.8 L34.1,375.1 L30.7,369.7 L27.7,364.5 L25.1,359.5 L23.1,354.8 L21.8,350.5 L21.0,346.1 L20.1,341.4 L18.7,335.8 L16.8,328.9 L15.6,321.5 L15.4,315.7 L15.3,312.9 L15.2,312.2 L15.5,312.4 L16.2,312.0 L17.4,310.3 L18.9,308.1 L20.4,306.0 L23.7,304.7 Z" fill="url(#gs7)"/>
<path d="M30.0,302.0 L29.4,303.3 L28.6,305.2 L27.8,307.4 L27.2,309.5 L27.1,311.3 L27.1,313.1 L27.3,315.1 L27.6,317.5 L27.9,320.3 L28.3,323.4 L28.9,327.1 L30.1,331.4 L32.0,336.6 L34.4,342.7 L37.2,349.1 L40.2,355.1 L43.7,360.9 L47.5,366.5 L51.6,371.9 L55.9,377.1 L60.2,382.1 L64.8,386.8 L69.5,391.3 L74.2,395.5 L78.7,399.3 L83.3,402.9 L87.9,406.1 L92.5,409.1 L97.1,412.0 L101.7,414.6 L106.3,416.9 L110.8,418.9 L115.5,420.6 L120.2,421.9 L124.8,423.0 L129.2,423.9 L133.2,424.6 L136.9,425.1 L140.5,425.5 L144.2,426.0 L147.8,426.5 L151.5,427.0 L155.1,427.5 L158.3,428.1 L161.3,428.8 L164.0,429.4 L166.5,430.3 L169.0,431.4 L171.4,432.9 L173.7,434.8 L175.9,436.8 L178.0,438.9 L179.9,440.9 L181.7,443.0 L183.4,445.1 L185.0,447.5 L186.5,450.1 L187.9,452.9 L189.3,455.8 L190.6,458.5 L191.8,461.0 L192.8,463.4 L194.0,465.8 L195.8,468.4 L198.4,471.2 L201.4,474.3 L204.8,477.4 L208.3,480.4 L212.2,483.5 L216.4,486.6 L220.8,489.7 L225.2,492.5 L229.1,495.0 L233.0,497.2 L237.3,499.5 L242.8,502.2 L249.8,505.6 L258.1,509.4 L266.8,513.4 L275.4,517.3 L283.7,521.0 L292.2,524.7 L300.7,528.4 L309.1,532.0 L317.0,535.4 L324.6,538.6 L332.7,542.0 L342.1,546.0 L353.4,551.0 L366.0,556.7 L379.1,562.6 L392.0,568.3 L404.4,573.8 L416.8,579.3 L429.2,584.8 L441.6,590.2 L453.8,595.5 L465.8,600.8 L478.1,606.1 L491.2,611.6 L505.3,617.3 L520.2,623.1 L535.5,629.2 L550.6,635.5 L565.3,642.1 L579.9,649.0 L594.9,656.0 L610.6,663.3 L627.2,670.8 L644.5,678.5 L662.3,686.4 L680.3,694.2 L698.6,702.0 L717.3,709.9 L736.2,717.8 L755.0,725.5 L773.7,732.8 L792.4,739.8 L811.1,746.9 L829.7,754.4 L847.8,762.2 L865.5,770.3 L883.9,778.7 L903.8,787.7 L926.1,797.6 L950.0,808.2 L974.6,819.0 L998.8,829.5 L1022.5,839.6 L1046.2,849.7 L1069.8,859.6 L1093.4,869.1 L1118.0,878.7 L1143.1,888.2 L1166.9,897.1 L1187.2,904.7 L1203.9,911.0 L1217.8,916.3 L1228.9,920.5 L1236.7,923.5 L1220.6,971.1 L1212.8,967.8 L1201.8,963.2 L1188.0,957.4 L1171.5,950.5 L1151.4,942.0 L1128.0,932.2 L1103.2,921.7 L1078.9,911.3 L1055.5,901.3 L1031.9,891.1 L1008.3,880.8 L984.6,870.5 L960.4,859.8 L935.8,848.8 L911.9,838.1 L889.7,828.0 L869.9,818.6 L851.8,809.8 L834.4,801.4 L816.6,793.3 L798.0,785.6 L779.4,778.2 L760.7,771.0 L742.1,763.5 L723.3,755.5 L704.5,747.3 L685.9,739.0 L667.6,730.9 L649.7,722.7 L632.0,714.6 L614.8,706.6 L598.2,699.0 L582.5,691.7 L567.6,684.9 L553.0,678.2 L538.3,671.5 L523.3,664.8 L508.2,658.2 L493.5,651.8 L479.4,645.6 L466.5,639.6 L454.3,633.9 L442.4,628.3 L430.3,622.7 L418.0,617.0 L405.7,611.3 L393.4,605.6 L381.0,599.9 L368.2,594.0 L355.1,588.0 L342.6,582.3 L331.3,577.2 L321.9,573.2 L313.8,569.8 L306.2,566.7 L298.3,563.3 L289.9,559.4 L281.5,555.4 L273.1,551.4 L264.7,547.3 L256.3,543.2 L247.7,539.0 L239.6,535.0 L232.5,531.3 L226.8,528.2 L222.1,525.6 L217.8,523.0 L213.5,520.0 L208.7,516.3 L203.9,512.2 L199.5,508.2 L195.9,504.7 L193.4,502.1 L191.8,499.9 L190.7,497.8 L189.7,495.5 L189.0,492.8 L188.7,490.0 L188.6,487.0 L188.4,484.0 L188.3,480.7 L188.4,477.2 L188.3,473.8 L187.8,470.6 L186.7,467.8 L185.2,465.2 L183.4,462.8 L181.4,460.6 L179.1,458.5 L176.6,456.6 L173.8,455.0 L170.7,453.8 L167.3,453.2 L163.8,453.1 L160.0,453.2 L155.8,453.3 L151.1,453.2 L145.9,453.1 L140.6,452.9 L135.5,452.6 L130.5,452.0 L125.6,451.3 L120.7,450.5 L115.8,449.3 L111.1,447.9 L106.4,446.2 L101.8,444.2 L97.0,441.7 L92.2,438.5 L87.2,434.6 L82.3,430.4 L77.3,426.0 L72.3,421.3 L67.3,416.4 L62.3,411.2 L57.3,405.6 L52.2,399.7 L47.1,393.3 L42.2,386.9 L37.9,380.8 L34.1,375.1 L30.7,369.7 L27.7,364.5 L25.1,359.5 L23.1,354.8 L21.8,350.5 L21.0,346.1 L20.1,341.4 L18.7,335.8 L16.8,328.9 L15.6,321.5 L15.4,315.7 L15.3,312.9 L15.2,312.2 L15.5,312.4 L16.2,312.0 L17.4,310.3 L18.9,308.1 L20.4,306.0 L23.7,304.7 Z" fill="url(#gs8)"/>
<path d="M30.0,302.0 L29.4,303.4 L28.5,305.3 L27.6,307.5 L27.0,309.6 L26.8,311.4 L26.8,313.1 L26.9,315.0 L27.2,317.4 L27.5,320.4 L27.9,323.6 L28.5,327.4 L29.7,331.8 L31.5,337.1 L33.8,343.1 L36.4,349.4 L39.4,355.4 L42.8,361.1 L46.5,366.7 L50.5,372.1 L54.7,377.4 L59.1,382.4 L63.7,387.3 L68.4,391.9 L73.0,396.2 L77.6,400.2 L82.2,403.8 L86.8,407.2 L91.3,410.4 L95.9,413.4 L100.5,416.2 L105.1,418.6 L109.7,420.8 L114.4,422.5 L119.0,423.9 L123.6,425.1 L128.0,426.1 L132.1,426.8 L135.9,427.4 L139.7,427.8 L143.4,428.2 L147.2,428.7 L151.1,429.2 L154.7,429.6 L158.1,430.2 L161.2,430.7 L164.0,431.3 L166.6,432.0 L169.1,433.1 L171.6,434.6 L173.9,436.4 L176.2,438.4 L178.2,440.5 L180.2,442.5 L182.0,444.6 L183.6,446.9 L185.2,449.3 L186.6,452.0 L187.9,454.8 L189.2,457.8 L190.4,460.6 L191.5,463.1 L192.5,465.6 L193.6,468.0 L195.3,470.6 L197.7,473.5 L200.6,476.4 L203.8,479.4 L207.3,482.5 L211.2,485.6 L215.4,488.8 L219.7,492.0 L224.1,494.9 L228.1,497.4 L232.0,499.7 L236.4,502.0 L241.8,504.8 L248.9,508.2 L257.1,512.1 L265.8,516.1 L274.4,520.0 L282.8,523.7 L291.3,527.5 L299.7,531.2 L308.1,534.9 L316.0,538.3 L323.6,541.4 L331.7,544.8 L341.1,548.9 L352.4,553.9 L365.0,559.5 L378.2,565.5 L391.0,571.2 L403.4,576.7 L415.8,582.2 L428.2,587.7 L440.6,593.2 L452.7,598.6 L464.7,603.8 L477.0,609.2 L490.1,614.8 L504.2,620.6 L519.1,626.5 L534.3,632.6 L549.4,638.9 L564.1,645.5 L578.8,652.4 L593.7,659.4 L609.4,666.7 L626.0,674.2 L643.3,682.0 L661.1,689.8 L679.1,697.7 L697.4,705.6 L716.1,713.6 L734.9,721.5 L753.7,729.2 L772.4,736.5 L791.1,743.5 L809.8,750.7 L828.4,758.2 L846.5,766.1 L864.2,774.1 L882.5,782.6 L902.4,791.7 L924.7,801.6 L948.6,812.2 L973.2,823.0 L997.4,833.6 L1021.1,843.7 L1044.8,853.8 L1068.4,863.7 L1092.0,873.4 L1116.5,883.0 L1141.6,892.7 L1165.3,901.7 L1185.6,909.4 L1202.2,915.8 L1216.2,921.1 L1227.2,925.4 L1235.1,928.4 L1220.6,971.1 L1212.8,967.8 L1201.8,963.2 L1188.0,957.4 L1171.5,950.5 L1151.4,942.0 L1128.0,932.2 L1103.2,921.7 L1078.9,911.3 L1055.5,901.3 L1031.9,891.1 L1008.3,880.8 L984.6,870.5 L960.4,859.8 L935.8,848.8 L911.9,838.1 L889.7,828.0 L869.9,818.6 L851.8,809.8 L834.4,801.4 L816.6,793.3 L798.0,785.6 L779.4,778.2 L760.7,771.0 L742.1,763.5 L723.3,755.5 L704.5,747.3 L685.9,739.0 L667.6,730.9 L649.7,722.7 L632.0,714.6 L614.8,706.6 L598.2,699.0 L582.5,691.7 L567.6,684.9 L553.0,678.2 L538.3,671.5 L523.3,664.8 L508.2,658.2 L493.5,651.8 L479.4,645.6 L466.5,639.6 L454.3,633.9 L442.4,628.3 L430.3,622.7 L418.0,617.0 L405.7,611.3 L393.4,605.6 L381.0,599.9 L368.2,594.0 L355.1,588.0 L342.6,582.3 L331.3,577.2 L321.9,573.2 L313.8,569.8 L306.2,566.7 L298.3,563.3 L289.9,559.4 L281.5,555.4 L273.1,551.4 L264.7,547.3 L256.3,543.2 L247.7,539.0 L239.6,535.0 L232.5,531.3 L226.8,528.2 L222.1,525.6 L217.8,523.0 L213.5,520.0 L208.7,516.3 L203.9,512.2 L199.5,508.2 L195.9,504.7 L193.4,502.1 L191.8,499.9 L190.7,497.8 L189.7,495.5 L189.0,492.8 L188.7,490.0 L188.6,487.0 L188.4,484.0 L188.3,480.7 L188.4,477.2 L188.3,473.8 L187.8,470.6 L186.7,467.8 L185.2,465.2 L183.4,462.8 L181.4,460.6 L179.1,458.5 L176.6,456.6 L173.8,455.0 L170.7,453.8 L167.3,453.2 L163.8,453.1 L160.0,453.2 L155.8,453.3 L151.1,453.2 L145.9,453.1 L140.6,452.9 L135.5,452.6 L130.5,452.0 L125.6,451.3 L120.7,450.5 L115.8,449.3 L111.1,447.9 L106.4,446.2 L101.8,444.2 L97.0,441.7 L92.2,438.5 L87.2,434.6 L82.3,430.4 L77.3,426.0 L72.3,421.3 L67.3,416.4 L62.3,411.2 L57.3,405.6 L52.2,399.7 L47.1,393.3 L42.2,386.9 L37.9,380.8 L34.1,375.1 L30.7,369.7 L27.7,364.5 L25.1,359.5 L23.1,354.8 L21.8,350.5 L21.0,346.1 L20.1,341.4 L18.7,335.8 L16.8,328.9 L15.6,321.5 L15.4,315.7 L15.3,312.9 L15.2,312.2 L15.5,312.4 L16.2,312.0 L17.4,310.3 L18.9,308.1 L20.4,306.0 L23.7,304.7 Z" fill="url(#gs9)"/>
<path d="M30.0,302.0 L29.3,303.4 L28.3,305.3 L27.4,307.5 L26.7,309.6 L26.4,311.4 L26.4,313.0 L26.5,314.9 L26.8,317.4 L27.1,320.4 L27.4,323.8 L28.1,327.8 L29.2,332.3 L31.0,337.5 L33.2,343.5 L35.7,349.7 L38.6,355.6 L41.9,361.3 L45.5,366.9 L49.5,372.3 L53.6,377.6 L57.9,382.7 L62.5,387.7 L67.2,392.4 L71.9,396.9 L76.4,401.0 L81.0,404.8 L85.6,408.4 L90.2,411.7 L94.8,414.8 L99.4,417.8 L104.0,420.4 L108.6,422.7 L113.2,424.5 L117.9,426.0 L122.5,427.2 L126.9,428.2 L131.0,429.1 L135.0,429.6 L138.8,430.1 L142.7,430.5 L146.6,430.9 L150.6,431.3 L154.4,431.7 L157.9,432.2 L161.1,432.7 L164.0,433.1 L166.7,433.8 L169.2,434.8 L171.8,436.2 L174.1,438.0 L176.4,440.0 L178.5,442.1 L180.4,444.1 L182.2,446.3 L183.9,448.6 L185.4,451.1 L186.8,453.8 L188.0,456.8 L189.1,459.8 L190.2,462.6 L191.2,465.3 L192.1,467.8 L193.2,470.3 L194.8,472.9 L197.1,475.7 L199.8,478.6 L202.9,481.5 L206.3,484.5 L210.1,487.7 L214.3,491.0 L218.7,494.3 L223.1,497.3 L227.2,499.9 L231.0,502.2 L235.4,504.6 L240.9,507.4 L248.0,510.8 L256.2,514.7 L264.9,518.7 L273.5,522.6 L281.8,526.5 L290.3,530.3 L298.8,534.0 L307.2,537.7 L315.1,541.1 L322.6,544.3 L330.7,547.6 L340.2,551.7 L351.4,556.7 L364.0,562.4 L377.2,568.3 L390.0,574.1 L402.4,579.6 L414.8,585.2 L427.2,590.7 L439.5,596.2 L451.7,601.6 L463.7,606.9 L475.9,612.3 L489.0,618.0 L503.1,623.8 L518.0,629.8 L533.2,636.0 L548.2,642.4 L563.0,649.0 L577.6,655.8 L592.5,662.8 L608.2,670.1 L624.8,677.6 L642.1,685.4 L659.8,693.3 L677.8,701.2 L696.1,709.2 L714.8,717.2 L733.7,725.1 L752.5,732.8 L771.2,740.2 L789.9,747.3 L808.5,754.4 L827.2,762.0 L845.2,769.9 L862.8,778.0 L881.1,786.6 L901.0,795.7 L923.3,805.6 L947.2,816.3 L971.8,827.1 L996.0,837.6 L1019.7,847.8 L1043.4,857.9 L1067.0,867.9 L1090.5,877.6 L1115.0,887.3 L1140.1,897.1 L1163.8,906.2 L1184.0,914.0 L1200.6,920.5 L1214.5,925.9 L1225.6,930.2 L1233.4,933.3 L1220.6,971.1 L1212.8,967.8 L1201.8,963.2 L1188.0,957.4 L1171.5,950.5 L1151.4,942.0 L1128.0,932.2 L1103.2,921.7 L1078.9,911.3 L1055.5,901.3 L1031.9,891.1 L1008.3,880.8 L984.6,870.5 L960.4,859.8 L935.8,848.8 L911.9,838.1 L889.7,828.0 L869.9,818.6 L851.8,809.8 L834.4,801.4 L816.6,793.3 L798.0,785.6 L779.4,778.2 L760.7,771.0 L742.1,763.5 L723.3,755.5 L704.5,747.3 L685.9,739.0 L667.6,730.9 L649.7,722.7 L632.0,714.6 L614.8,706.6 L598.2,699.0 L582.5,691.7 L567.6,684.9 L553.0,678.2 L538.3,671.5 L523.3,664.8 L508.2,658.2 L493.5,651.8 L479.4,645.6 L466.5,639.6 L454.3,633.9 L442.4,628.3 L430.3,622.7 L418.0,617.0 L405.7,611.3 L393.4,605.6 L381.0,599.9 L368.2,594.0 L355.1,588.0 L342.6,582.3 L331.3,577.2 L321.9,573.2 L313.8,569.8 L306.2,566.7 L298.3,563.3 L289.9,559.4 L281.5,555.4 L273.1,551.4 L264.7,547.3 L256.3,543.2 L247.7,539.0 L239.6,535.0 L232.5,531.3 L226.8,528.2 L222.1,525.6 L217.8,523.0 L213.5,520.0 L208.7,516.3 L203.9,512.2 L199.5,508.2 L195.9,504.7 L193.4,502.1 L191.8,499.9 L190.7,497.8 L189.7,495.5 L189.0,492.8 L188.7,490.0 L188.6,487.0 L188.4,484.0 L188.3,480.7 L188.4,477.2 L188.3,473.8 L187.8,470.6 L186.7,467.8 L185.2,465.2 L183.4,462.8 L181.4,460.6 L179.1,458.5 L176.6,456.6 L173.8,455.0 L170.7,453.8 L167.3,453.2 L163.8,453.1 L160.0,453.2 L155.8,453.3 L151.1,453.2 L145.9,453.1 L140.6,452.9 L135.5,452.6 L130.5,452.0 L125.6,451.3 L120.7,450.5 L115.8,449.3 L111.1,447.9 L106.4,446.2 L101.8,444.2 L97.0,441.7 L92.2,438.5 L87.2,434.6 L82.3,430.4 L77.3,426.0 L72.3,421.3 L67.3,416.4 L62.3,411.2 L57.3,405.6 L52.2,399.7 L47.1,393.3 L42.2,386.9 L37.9,380.8 L34.1,375.1 L30.7,369.7 L27.7,364.5 L25.1,359.5 L23.1,354.8 L21.8,350.5 L21.0,346.1 L20.1,341.4 L18.7,335.8 L16.8,328.9 L15.6,321.5 L15.4,315.7 L15.3,312.9 L15.2,312.2 L15.5,312.4 L16.2,312.0 L17.4,310.3 L18.9,308.1 L20.4,306.0 L23.7,304.7 Z" fill="url(#gs10)"/>
<path d="M30.0,302.0 L29.3,303.4 L28.2,305.4 L27.1,307.6 L26.4,309.7 L26.1,311.4 L26.0,313.0 L26.1,314.9 L26.4,317.3 L26.7,320.4 L27.0,324.0 L27.7,328.1 L28.8,332.7 L30.4,338.0 L32.5,343.9 L35.0,350.0 L37.8,355.8 L41.0,361.5 L44.5,367.1 L48.4,372.5 L52.4,377.8 L56.7,383.0 L61.3,388.1 L66.1,393.0 L70.7,397.6 L75.3,401.8 L79.9,405.8 L84.5,409.5 L89.0,413.0 L93.6,416.3 L98.2,419.4 L102.8,422.2 L107.4,424.6 L112.0,426.5 L116.7,428.1 L121.3,429.3 L125.7,430.4 L129.9,431.3 L134.0,431.9 L138.0,432.3 L142.0,432.8 L146.0,433.2 L150.1,433.5 L154.1,433.8 L157.7,434.2 L161.0,434.6 L164.0,435.0 L166.7,435.5 L169.4,436.4 L171.9,437.8 L174.4,439.6 L176.6,441.6 L178.8,443.7 L180.7,445.8 L182.5,448.0 L184.1,450.3 L185.6,452.8 L186.9,455.6 L188.0,458.7 L189.0,461.8 L190.1,464.7 L191.0,467.4 L191.8,470.0 L192.8,472.6 L194.3,475.2 L196.4,478.0 L199.0,480.7 L201.9,483.6 L205.2,486.5 L209.0,489.8 L213.2,493.2 L217.7,496.6 L222.1,499.7 L226.2,502.3 L230.1,504.7 L234.5,507.1 L240.0,510.0 L247.1,513.4 L255.3,517.3 L264.0,521.4 L272.5,525.3 L280.9,529.2 L289.3,533.0 L297.8,536.9 L306.2,540.6 L314.1,543.9 L321.7,547.1 L329.8,550.5 L339.2,554.5 L350.5,559.5 L363.0,565.2 L376.2,571.2 L389.0,577.0 L401.4,582.5 L413.8,588.1 L426.1,593.7 L438.5,599.2 L450.6,604.6 L462.6,610.0 L474.9,615.5 L487.9,621.1 L502.0,627.0 L516.8,633.1 L532.0,639.4 L547.1,645.8 L561.8,652.4 L576.4,659.2 L591.3,666.2 L607.0,673.5 L623.6,681.0 L640.9,688.9 L658.6,696.8 L676.6,704.7 L694.9,712.7 L713.6,720.8 L732.5,728.7 L751.2,736.5 L769.9,743.9 L788.6,751.0 L807.3,758.2 L825.9,765.8 L843.9,773.7 L861.5,781.9 L879.7,790.5 L899.6,799.6 L921.9,809.6 L945.8,820.3 L970.4,831.1 L994.6,841.7 L1018.3,851.9 L1041.9,862.0 L1065.6,872.0 L1089.1,881.8 L1113.5,891.6 L1138.6,901.5 L1162.2,910.8 L1182.4,918.7 L1199.0,925.2 L1212.9,930.7 L1223.9,935.1 L1231.7,938.2 L1220.6,971.1 L1212.8,967.8 L1201.8,963.2 L1188.0,957.4 L1171.5,950.5 L1151.4,942.0 L1128.0,932.2 L1103.2,921.7 L1078.9,911.3 L1055.5,901.3 L1031.9,891.1 L1008.3,880.8 L984.6,870.5 L960.4,859.8 L935.8,848.8 L911.9,838.1 L889.7,828.0 L869.9,818.6 L851.8,809.8 L834.4,801.4 L816.6,793.3 L798.0,785.6 L779.4,778.2 L760.7,771.0 L742.1,763.5 L723.3,755.5 L704.5,747.3 L685.9,739.0 L667.6,730.9 L649.7,722.7 L632.0,714.6 L614.8,706.6 L598.2,699.0 L582.5,691.7 L567.6,684.9 L553.0,678.2 L538.3,671.5 L523.3,664.8 L508.2,658.2 L493.5,651.8 L479.4,645.6 L466.5,639.6 L454.3,633.9 L442.4,628.3 L430.3,622.7 L418.0,617.0 L405.7,611.3 L393.4,605.6 L381.0,599.9 L368.2,594.0 L355.1,588.0 L342.6,582.3 L331.3,577.2 L321.9,573.2 L313.8,569.8 L306.2,566.7 L298.3,563.3 L289.9,559.4 L281.5,555.4 L273.1,551.4 L264.7,547.3 L256.3,543.2 L247.7,539.0 L239.6,535.0 L232.5,531.3 L226.8,528.2 L222.1,525.6 L217.8,523.0 L213.5,520.0 L208.7,516.3 L203.9,512.2 L199.5,508.2 L195.9,504.7 L193.4,502.1 L191.8,499.9 L190.7,497.8 L189.7,495.5 L189.0,492.8 L188.7,490.0 L188.6,487.0 L188.4,484.0 L188.3,480.7 L188.4,477.2 L188.3,473.8 L187.8,470.6 L186.7,467.8 L185.2,465.2 L183.4,462.8 L181.4,460.6 L179.1,458.5 L176.6,456.6 L173.8,455.0 L170.7,453.8 L167.3,453.2 L163.8,453.1 L160.0,453.2 L155.8,453.3 L151.1,453.2 L145.9,453.1 L140.6,452.9 L135.5,452.6 L130.5,452.0 L125.6,451.3 L120.7,450.5 L115.8,449.3 L111.1,447.9 L106.4,446.2 L101.8,444.2 L97.0,441.7 L92.2,438.5 L87.2,434.6 L82.3,430.4 L77.3,426.0 L72.3,421.3 L67.3,416.4 L62.3,411.2 L57.3,405.6 L52.2,399.7 L47.1,393.3 L42.2,386.9 L37.9,380.8 L34.1,375.1 L30.7,369.7 L27.7,364.5 L25.1,359.5 L23.1,354.8 L21.8,350.5 L21.0,346.1 L20.1,341.4 L18.7,335.8 L16.8,328.9 L15.6,321.5 L15.4,315.7 L15.3,312.9 L15.2,312.2 L15.5,312.4 L16.2,312.0 L17.4,310.3 L18.9,308.1 L20.4,306.0 L23.7,304.7 Z" fill="url(#gs11)"/>
<path d="M30.0,302.0 L29.2,303.4 L28.1,305.4 L26.9,307.6 L26.1,309.8 L25.8,311.4 L25.7,313.0 L25.7,314.8 L26.0,317.2 L26.2,320.5 L26.6,324.2 L27.2,328.5 L28.3,333.2 L29.9,338.4 L31.9,344.2 L34.3,350.2 L37.0,356.1 L40.1,361.7 L43.5,367.2 L47.3,372.7 L51.3,378.1 L55.6,383.3 L60.2,388.5 L64.9,393.5 L69.6,398.2 L74.2,402.6 L78.7,406.7 L83.3,410.6 L87.9,414.2 L92.5,417.7 L97.1,421.0 L101.7,423.9 L106.3,426.4 L110.9,428.5 L115.5,430.1 L120.1,431.5 L124.6,432.6 L128.9,433.5 L133.0,434.1 L137.1,434.6 L141.2,435.0 L145.4,435.4 L149.7,435.6 L153.8,435.9 L157.5,436.2 L160.9,436.5 L163.9,436.8 L166.8,437.2 L169.5,438.1 L172.1,439.5 L174.6,441.2 L176.9,443.2 L179.0,445.3 L181.0,447.4 L182.8,449.6 L184.4,452.0 L185.8,454.6 L187.1,457.5 L188.1,460.6 L189.0,463.7 L189.9,466.8 L190.7,469.5 L191.4,472.2 L192.4,474.8 L193.8,477.5 L195.8,480.2 L198.2,482.9 L201.0,485.6 L204.2,488.6 L207.9,491.9 L212.1,495.4 L216.6,498.9 L221.1,502.1 L225.2,504.8 L229.1,507.2 L233.6,509.6 L239.1,512.5 L246.2,516.0 L254.4,520.0 L263.0,524.1 L271.6,528.0 L279.9,531.9 L288.3,535.8 L296.8,539.7 L305.2,543.4 L313.1,546.8 L320.7,549.9 L328.8,553.3 L338.2,557.4 L349.5,562.4 L362.1,568.1 L375.2,574.0 L388.0,579.8 L400.4,585.4 L412.7,591.0 L425.1,596.6 L437.4,602.2 L449.6,607.7 L461.5,613.1 L473.8,618.6 L486.8,624.3 L500.9,630.3 L515.7,636.4 L530.8,642.8 L545.9,649.2 L560.6,655.9 L575.2,662.7 L590.2,669.6 L605.9,676.9 L622.5,684.5 L639.7,692.3 L657.4,700.3 L675.4,708.3 L693.7,716.3 L712.4,724.4 L731.2,732.4 L750.0,740.2 L768.7,747.6 L787.3,754.8 L806.0,762.0 L824.6,769.6 L842.6,777.6 L860.1,785.8 L878.4,794.4 L898.3,803.6 L920.5,813.6 L944.4,824.3 L969.0,835.1 L993.2,845.7 L1016.9,856.0 L1040.5,866.1 L1064.1,876.2 L1087.7,886.0 L1112.1,895.9 L1137.1,905.9 L1160.6,915.3 L1180.8,923.3 L1197.4,930.0 L1211.3,935.5 L1222.3,939.9 L1230.1,943.0 L1220.6,971.1 L1212.8,967.8 L1201.8,963.2 L1188.0,957.4 L1171.5,950.5 L1151.4,942.0 L1128.0,932.2 L1103.2,921.7 L1078.9,911.3 L1055.5,901.3 L1031.9,891.1 L1008.3,880.8 L984.6,870.5 L960.4,859.8 L935.8,848.8 L911.9,838.1 L889.7,828.0 L869.9,818.6 L851.8,809.8 L834.4,801.4 L816.6,793.3 L798.0,785.6 L779.4,778.2 L760.7,771.0 L742.1,763.5 L723.3,755.5 L704.5,747.3 L685.9,739.0 L667.6,730.9 L649.7,722.7 L632.0,714.6 L614.8,706.6 L598.2,699.0 L582.5,691.7 L567.6,684.9 L553.0,678.2 L538.3,671.5 L523.3,664.8 L508.2,658.2 L493.5,651.8 L479.4,645.6 L466.5,639.6 L454.3,633.9 L442.4,628.3 L430.3,622.7 L418.0,617.0 L405.7,611.3 L393.4,605.6 L381.0,599.9 L368.2,594.0 L355.1,588.0 L342.6,582.3 L331.3,577.2 L321.9,573.2 L313.8,569.8 L306.2,566.7 L298.3,563.3 L289.9,559.4 L281.5,555.4 L273.1,551.4 L264.7,547.3 L256.3,543.2 L247.7,539.0 L239.6,535.0 L232.5,531.3 L226.8,528.2 L222.1,525.6 L217.8,523.0 L213.5,520.0 L208.7,516.3 L203.9,512.2 L199.5,508.2 L195.9,504.7 L193.4,502.1 L191.8,499.9 L190.7,497.8 L189.7,495.5 L189.0,492.8 L188.7,490.0 L188.6,487.0 L188.4,484.0 L188.3,480.7 L188.4,477.2 L188.3,473.8 L187.8,470.6 L186.7,467.8 L185.2,465.2 L183.4,462.8 L181.4,460.6 L179.1,458.5 L176.6,456.6 L173.8,455.0 L170.7,453.8 L167.3,453.2 L163.8,453.1 L160.0,453.2 L155.8,453.3 L151.1,453.2 L145.9,453.1 L140.6,452.9 L135.5,452.6 L130.5,452.0 L125.6,451.3 L120.7,450.5 L115.8,449.3 L111.1,447.9 L106.4,446.2 L101.8,444.2 L97.0,441.7 L92.2,438.5 L87.2,434.6 L82.3,430.4 L77.3,426.0 L72.3,421.3 L67.3,416.4 L62.3,411.2 L57.3,405.6 L52.2,399.7 L47.1,393.3 L42.2,386.9 L37.9,380.8 L34.1,375.1 L30.7,369.7 L27.7,364.5 L25.1,359.5 L23.1,354.8 L21.8,350.5 L21.0,346.1 L20.1,341.4 L18.7,335.8 L16.8,328.9 L15.6,321.5 L15.4,315.7 L15.3,312.9 L15.2,312.2 L15.5,312.4 L16.2,312.0 L17.4,310.3 L18.9,308.1 L20.4,306.0 L23.7,304.7 Z" fill="url(#gs12)"/>
<path d="M30.0,302.0 L29.2,303.4 L27.9,305.4 L26.7,307.7 L25.8,309.8 L25.4,311.5 L25.3,313.0 L25.4,314.7 L25.6,317.2 L25.8,320.5 L26.2,324.5 L26.8,328.9 L27.9,333.6 L29.4,338.9 L31.3,344.6 L33.6,350.5 L36.2,356.3 L39.2,361.9 L42.6,367.4 L46.2,372.9 L50.1,378.3 L54.4,383.7 L59.0,389.0 L63.8,394.1 L68.4,398.9 L73.0,403.5 L77.6,407.7 L82.2,411.7 L86.8,415.5 L91.3,419.1 L95.9,422.5 L100.5,425.7 L105.1,428.3 L109.7,430.5 L114.4,432.2 L118.9,433.6 L123.4,434.8 L127.8,435.7 L132.1,436.4 L136.3,436.8 L140.5,437.2 L144.8,437.6 L149.2,437.8 L153.4,438.0 L157.3,438.2 L160.8,438.5 L163.9,438.6 L166.8,439.0 L169.6,439.8 L172.3,441.1 L174.8,442.8 L177.1,444.8 L179.2,446.9 L181.2,449.0 L183.0,451.3 L184.6,453.7 L186.1,456.4 L187.2,459.3 L188.1,462.5 L188.9,465.7 L189.7,468.8 L190.5,471.7 L191.1,474.4 L191.9,477.1 L193.3,479.8 L195.1,482.5 L197.4,485.0 L200.0,487.7 L203.1,490.6 L206.8,493.9 L211.1,497.6 L215.6,501.2 L220.1,504.5 L224.2,507.3 L228.2,509.7 L232.7,512.2 L238.2,515.1 L245.3,518.7 L253.4,522.6 L262.1,526.7 L270.6,530.7 L278.9,534.7 L287.4,538.6 L295.8,542.5 L304.2,546.2 L312.1,549.6 L319.7,552.8 L327.8,556.2 L337.2,560.2 L348.5,565.2 L361.1,570.9 L374.2,576.9 L387.0,582.7 L399.4,588.4 L411.7,594.0 L424.1,599.6 L436.4,605.2 L448.5,610.7 L460.4,616.2 L472.7,621.7 L485.7,627.5 L499.7,633.5 L514.5,639.8 L529.7,646.1 L544.7,652.7 L559.4,659.3 L574.0,666.1 L589.0,673.0 L604.7,680.3 L621.3,687.9 L638.5,695.8 L656.2,703.8 L674.2,711.8 L692.5,719.8 L711.1,728.0 L730.0,736.0 L748.7,743.9 L767.4,751.3 L786.1,758.5 L804.7,765.7 L823.3,773.4 L841.3,781.4 L858.8,789.7 L877.0,798.4 L896.9,807.6 L919.1,817.6 L943.0,828.3 L967.6,839.2 L991.8,849.8 L1015.4,860.1 L1039.1,870.3 L1062.7,880.3 L1086.2,890.2 L1110.6,900.2 L1135.5,910.4 L1159.1,919.9 L1179.2,928.0 L1195.7,934.7 L1209.6,940.3 L1220.6,944.8 L1228.4,947.9 L1220.6,971.1 L1212.8,967.8 L1201.8,963.2 L1188.0,957.4 L1171.5,950.5 L1151.4,942.0 L1128.0,932.2 L1103.2,921.7 L1078.9,911.3 L1055.5,901.3 L1031.9,891.1 L1008.3,880.8 L984.6,870.5 L960.4,859.8 L935.8,848.8 L911.9,838.1 L889.7,828.0 L869.9,818.6 L851.8,809.8 L834.4,801.4 L816.6,793.3 L798.0,785.6 L779.4,778.2 L760.7,771.0 L742.1,763.5 L723.3,755.5 L704.5,747.3 L685.9,739.0 L667.6,730.9 L649.7,722.7 L632.0,714.6 L614.8,706.6 L598.2,699.0 L582.5,691.7 L567.6,684.9 L553.0,678.2 L538.3,671.5 L523.3,664.8 L508.2,658.2 L493.5,651.8 L479.4,645.6 L466.5,639.6 L454.3,633.9 L442.4,628.3 L430.3,622.7 L418.0,617.0 L405.7,611.3 L393.4,605.6 L381.0,599.9 L368.2,594.0 L355.1,588.0 L342.6,582.3 L331.3,577.2 L321.9,573.2 L313.8,569.8 L306.2,566.7 L298.3,563.3 L289.9,559.4 L281.5,555.4 L273.1,551.4 L264.7,547.3 L256.3,543.2 L247.7,539.0 L239.6,535.0 L232.5,531.3 L226.8,528.2 L222.1,525.6 L217.8,523.0 L213.5,520.0 L208.7,516.3 L203.9,512.2 L199.5,508.2 L195.9,504.7 L193.4,502.1 L191.8,499.9 L190.7,497.8 L189.7,495.5 L189.0,492.8 L188.7,490.0 L188.6,487.0 L188.4,484.0 L188.3,480.7 L188.4,477.2 L188.3,473.8 L187.8,470.6 L186.7,467.8 L185.2,465.2 L183.4,462.8 L181.4,460.6 L179.1,458.5 L176.6,456.6 L173.8,455.0 L170.7,453.8 L167.3,453.2 L163.8,453.1 L160.0,453.2 L155.8,453.3 L151.1,453.2 L145.9,453.1 L140.6,452.9 L135.5,452.6 L130.5,452.0 L125.6,451.3 L120.7,450.5 L115.8,449.3 L111.1,447.9 L106.4,446.2 L101.8,444.2 L97.0,441.7 L92.2,438.5 L87.2,434.6 L82.3,430.4 L77.3,426.0 L72.3,421.3 L67.3,416.4 L62.3,411.2 L57.3,405.6 L52.2,399.7 L47.1,393.3 L42.2,386.9 L37.9,380.8 L34.1,375.1 L30.7,369.7 L27.7,364.5 L25.1,359.5 L23.1,354.8 L21.8,350.5 L21.0,346.1 L20.1,341.4 L18.7,335.8 L16.8,328.9 L15.6,321.5 L15.4,315.7 L15.3,312.9 L15.2,312.2 L15.5,312.4 L16.2,312.0 L17.4,310.3 L18.9,308.1 L20.4,306.0 L23.7,304.7 Z" fill="url(#gs13)"/>
<path d="M30.0,302.0 L29.1,303.4 L27.8,305.5 L26.5,307.8 L25.6,309.9 L25.1,311.5 L24.9,312.9 L25.0,314.6 L25.1,317.1 L25.4,320.6 L25.7,324.7 L26.4,329.2 L27.4,334.1 L28.9,339.3 L30.7,345.0 L32.9,350.8 L35.4,356.5 L38.3,362.1 L41.6,367.6 L45.1,373.1 L49.0,378.5 L53.2,384.0 L57.8,389.4 L62.6,394.7 L67.3,399.6 L71.9,404.3 L76.4,408.7 L81.0,412.8 L85.6,416.8 L90.2,420.5 L94.8,424.1 L99.4,427.4 L104.0,430.2 L108.6,432.5 L113.2,434.3 L117.8,435.7 L122.3,436.9 L126.7,437.9 L131.1,438.6 L135.4,439.1 L139.8,439.5 L144.2,439.8 L148.7,440.0 L153.1,440.1 L157.1,440.3 L160.7,440.4 L163.9,440.5 L166.9,440.7 L169.8,441.4 L172.5,442.7 L175.0,444.4 L177.3,446.4 L179.5,448.5 L181.5,450.6 L183.3,453.0 L184.9,455.5 L186.3,458.2 L187.3,461.2 L188.1,464.4 L188.8,467.7 L189.5,470.9 L190.2,473.8 L190.8,476.6 L191.5,479.4 L192.7,482.1 L194.5,484.7 L196.6,487.2 L199.1,489.8 L202.1,492.6 L205.8,496.0 L210.0,499.8 L214.5,503.5 L219.0,506.9 L223.2,509.7 L227.2,512.2 L231.7,514.7 L237.3,517.7 L244.4,521.3 L252.5,525.2 L261.1,529.4 L269.6,533.4 L278.0,537.4 L286.4,541.4 L294.8,545.3 L303.2,549.1 L311.1,552.5 L318.7,555.6 L326.8,559.0 L336.2,563.0 L347.5,568.1 L360.1,573.8 L373.2,579.8 L386.0,585.6 L398.4,591.3 L410.7,596.9 L423.0,602.6 L435.3,608.2 L447.4,613.8 L459.4,619.3 L471.6,624.9 L484.6,630.7 L498.6,636.8 L513.4,643.1 L528.5,649.5 L543.5,656.1 L558.2,662.8 L572.9,669.5 L587.8,676.4 L603.5,683.7 L620.1,691.3 L637.3,699.2 L655.0,707.3 L673.0,715.3 L691.2,723.4 L709.9,731.6 L728.7,739.7 L747.5,747.6 L766.1,755.0 L784.8,762.2 L803.5,769.5 L822.0,777.2 L840.0,785.2 L857.5,793.6 L875.6,802.3 L895.5,811.6 L917.7,821.6 L941.6,832.3 L966.2,843.2 L990.4,853.9 L1014.0,864.2 L1037.7,874.4 L1061.3,884.5 L1084.8,894.4 L1109.1,904.5 L1134.0,914.8 L1157.5,924.4 L1177.6,932.7 L1194.1,939.4 L1208.0,945.1 L1219.0,949.6 L1226.8,952.8 L1220.6,971.1 L1212.8,967.8 L1201.8,963.2 L1188.0,957.4 L1171.5,950.5 L1151.4,942.0 L1128.0,932.2 L1103.2,921.7 L1078.9,911.3 L1055.5,901.3 L1031.9,891.1 L1008.3,880.8 L984.6,870.5 L960.4,859.8 L935.8,848.8 L911.9,838.1 L889.7,828.0 L869.9,818.6 L851.8,809.8 L834.4,801.4 L816.6,793.3 L798.0,785.6 L779.4,778.2 L760.7,771.0 L742.1,763.5 L723.3,755.5 L704.5,747.3 L685.9,739.0 L667.6,730.9 L649.7,722.7 L632.0,714.6 L614.8,706.6 L598.2,699.0 L582.5,691.7 L567.6,684.9 L553.0,678.2 L538.3,671.5 L523.3,664.8 L508.2,658.2 L493.5,651.8 L479.4,645.6 L466.5,639.6 L454.3,633.9 L442.4,628.3 L430.3,622.7 L418.0,617.0 L405.7,611.3 L393.4,605.6 L381.0,599.9 L368.2,594.0 L355.1,588.0 L342.6,582.3 L331.3,577.2 L321.9,573.2 L313.8,569.8 L306.2,566.7 L298.3,563.3 L289.9,559.4 L281.5,555.4 L273.1,551.4 L264.7,547.3 L256.3,543.2 L247.7,539.0 L239.6,535.0 L232.5,531.3 L226.8,528.2 L222.1,525.6 L217.8,523.0 L213.5,520.0 L208.7,516.3 L203.9,512.2 L199.5,508.2 L195.9,504.7 L193.4,502.1 L191.8,499.9 L190.7,497.8 L189.7,495.5 L189.0,492.8 L188.7,490.0 L188.6,487.0 L188.4,484.0 L188.3,480.7 L188.4,477.2 L188.3,473.8 L187.8,470.6 L186.7,467.8 L185.2,465.2 L183.4,462.8 L181.4,460.6 L179.1,458.5 L176.6,456.6 L173.8,455.0 L170.7,453.8 L167.3,453.2 L163.8,453.1 L160.0,453.2 L155.8,453.3 L151.1,453.2 L145.9,453.1 L140.6,452.9 L135.5,452.6 L130.5,452.0 L125.6,451.3 L120.7,450.5 L115.8,449.3 L111.1,447.9 L106.4,446.2 L101.8,444.2 L97.0,441.7 L92.2,438.5 L87.2,434.6 L82.3,430.4 L77.3,426.0 L72.3,421.3 L67.3,416.4 L62.3,411.2 L57.3,405.6 L52.2,399.7 L47.1,393.3 L42.2,386.9 L37.9,380.8 L34.1,375.1 L30.7,369.7 L27.7,364.5 L25.1,359.5 L23.1,354.8 L21.8,350.5 L21.0,346.1 L20.1,341.4 L18.7,335.8 L16.8,328.9 L15.6,321.5 L15.4,315.7 L15.3,312.9 L15.2,312.2 L15.5,312.4 L16.2,312.0 L17.4,310.3 L18.9,308.1 L20.4,306.0 L23.7,304.7 Z" fill="url(#gs14)"/>
<path d="M30.0,302.0 L29.1,303.4 L27.7,305.5 L26.3,307.8 L25.3,309.9 L24.8,311.5 L24.6,312.9 L24.6,314.6 L24.7,317.1 L25.0,320.6 L25.3,324.9 L26.0,329.6 L27.0,334.5 L28.4,339.8 L30.1,345.4 L32.2,351.1 L34.6,356.8 L37.4,362.3 L40.6,367.8 L44.0,373.3 L47.8,378.8 L52.1,384.3 L56.7,389.8 L61.4,395.2 L66.1,400.3 L70.7,405.1 L75.3,409.6 L79.9,413.9 L84.5,418.0 L89.0,422.0 L93.6,425.7 L98.2,429.2 L102.8,432.1 L107.4,434.5 L112.0,436.3 L116.6,437.8 L121.1,439.1 L125.6,440.1 L130.1,440.8 L134.6,441.3 L139.0,441.8 L143.6,442.0 L148.3,442.1 L152.8,442.2 L156.9,442.3 L160.6,442.3 L163.9,442.3 L167.0,442.5 L169.9,443.1 L172.6,444.4 L175.2,446.0 L177.6,448.0 L179.8,450.1 L181.7,452.3 L183.6,454.6 L185.1,457.2 L186.5,459.9 L187.5,463.0 L188.2,466.3 L188.7,469.7 L189.4,472.9 L189.9,475.9 L190.4,478.8 L191.1,481.7 L192.2,484.4 L193.8,487.0 L195.7,489.3 L198.1,491.8 L201.0,494.7 L204.7,498.1 L208.9,501.9 L213.5,505.8 L218.0,509.3 L222.2,512.2 L226.3,514.7 L230.8,517.2 L236.4,520.2 L243.5,523.9 L251.6,527.9 L260.2,532.0 L268.7,536.1 L277.0,540.1 L285.4,544.1 L293.9,548.1 L302.2,551.9 L310.1,555.3 L317.7,558.5 L325.8,561.8 L335.2,565.9 L346.5,570.9 L359.1,576.6 L372.2,582.6 L385.0,588.5 L397.3,594.2 L409.7,599.8 L422.0,605.5 L434.3,611.2 L446.4,616.8 L458.3,622.4 L470.5,628.0 L483.5,633.9 L497.5,640.0 L512.3,646.4 L527.3,652.9 L542.4,659.6 L557.1,666.2 L571.7,672.9 L586.6,679.8 L602.3,687.1 L618.9,694.7 L636.1,702.6 L653.8,710.7 L671.8,718.8 L690.0,727.0 L708.7,735.2 L727.5,743.3 L746.2,751.3 L764.9,758.8 L783.6,766.0 L802.2,773.3 L820.7,781.0 L838.6,789.1 L856.1,797.5 L874.2,806.2 L894.1,815.5 L916.3,825.6 L940.2,836.3 L964.8,847.3 L989.0,857.9 L1012.6,868.3 L1036.3,878.5 L1059.9,888.6 L1083.3,898.6 L1107.6,908.8 L1132.5,919.2 L1155.9,929.0 L1176.0,937.3 L1192.5,944.2 L1206.4,949.9 L1217.3,954.5 L1225.1,957.7 L1220.6,971.1 L1212.8,967.8 L1201.8,963.2 L1188.0,957.4 L1171.5,950.5 L1151.4,942.0 L1128.0,932.2 L1103.2,921.7 L1078.9,911.3 L1055.5,901.3 L1031.9,891.1 L1008.3,880.8 L984.6,870.5 L960.4,859.8 L935.8,848.8 L911.9,838.1 L889.7,828.0 L869.9,818.6 L851.8,809.8 L834.4,801.4 L816.6,793.3 L798.0,785.6 L779.4,778.2 L760.7,771.0 L742.1,763.5 L723.3,755.5 L704.5,747.3 L685.9,739.0 L667.6,730.9 L649.7,722.7 L632.0,714.6 L614.8,706.6 L598.2,699.0 L582.5,691.7 L567.6,684.9 L553.0,678.2 L538.3,671.5 L523.3,664.8 L508.2,658.2 L493.5,651.8 L479.4,645.6 L466.5,639.6 L454.3,633.9 L442.4,628.3 L430.3,622.7 L418.0,617.0 L405.7,611.3 L393.4,605.6 L381.0,599.9 L368.2,594.0 L355.1,588.0 L342.6,582.3 L331.3,577.2 L321.9,573.2 L313.8,569.8 L306.2,566.7 L298.3,563.3 L289.9,559.4 L281.5,555.4 L273.1,551.4 L264.7,547.3 L256.3,543.2 L247.7,539.0 L239.6,535.0 L232.5,531.3 L226.8,528.2 L222.1,525.6 L217.8,523.0 L213.5,520.0 L208.7,516.3 L203.9,512.2 L199.5,508.2 L195.9,504.7 L193.4,502.1 L191.8,499.9 L190.7,497.8 L189.7,495.5 L189.0,492.8 L188.7,490.0 L188.6,487.0 L188.4,484.0 L188.3,480.7 L188.4,477.2 L188.3,473.8 L187.8,470.6 L186.7,467.8 L185.2,465.2 L183.4,462.8 L181.4,460.6 L179.1,458.5 L176.6,456.6 L173.8,455.0 L170.7,453.8 L167.3,453.2 L163.8,453.1 L160.0,453.2 L155.8,453.3 L151.1,453.2 L145.9,453.1 L140.6,452.9 L135.5,452.6 L130.5,452.0 L125.6,451.3 L120.7,450.5 L115.8,449.3 L111.1,447.9 L106.4,446.2 L101.8,444.2 L97.0,441.7 L92.2,438.5 L87.2,434.6 L82.3,430.4 L77.3,426.0 L72.3,421.3 L67.3,416.4 L62.3,411.2 L57.3,405.6 L52.2,399.7 L47.1,393.3 L42.2,386.9 L37.9,380.8 L34.1,375.1 L30.7,369.7 L27.7,364.5 L25.1,359.5 L23.1,354.8 L21.8,350.5 L21.0,346.1 L20.1,341.4 L18.7,335.8 L16.8,328.9 L15.6,321.5 L15.4,315.7 L15.3,312.9 L15.2,312.2 L15.5,312.4 L16.2,312.0 L17.4,310.3 L18.9,308.1 L20.4,306.0 L23.7,304.7 Z" fill="url(#gs15)"/>
</g></g>
<path d="M30.0,302.0 L31.6,299.8 L33.9,296.7 L36.8,293.2 L40.0,290.0 L43.6,287.2 L47.6,284.4 L52.0,281.7 L57.0,279.0 L62.4,276.4 L68.2,273.9 L74.6,271.5 L82.0,269.0 L90.3,266.5 L99.4,264.0 L109.4,261.5 L120.0,259.0 L131.7,256.5 L144.2,254.1 L157.2,251.7 L170.0,249.5 L182.5,247.5 L195.0,245.7 L207.5,244.1 L220.0,242.5 L232.5,241.1 L245.0,239.8 L257.5,238.6 L270.0,237.5 L281.8,236.6 L293.1,235.8 L305.4,235.1 L320.0,234.5 L338.0,233.9 L358.4,233.2 L379.6,232.7 L400.0,232.5 L419.7,232.5 L439.4,232.8 L458.1,233.2 L475.0,233.8 L489.3,234.5 L501.6,235.4 L513.1,236.4 L525.0,237.5 L538.0,238.6 L551.2,239.8 L563.9,241.0 L575.0,242.5 L584.0,244.2 L591.6,246.2 L598.3,248.2 L605.0,250.0 L611.6,251.5 L617.8,252.9 L623.9,254.3 L630.0,256.0 L636.2,258.0 L642.5,260.2 L648.8,262.5 L655.0,265.0 L661.2,267.6 L667.5,270.2 L673.8,273.1 L680.0,276.0 L686.2,279.2 L692.5,282.5 L698.8,285.9 L705.0,289.0 L711.2,291.8 L717.5,294.4 L723.8,296.9 L730.0,299.5 L736.2,302.1 L742.5,304.8 L748.8,307.4 L755.0,310.0 L761.2,312.5 L767.5,314.9 L773.8,317.3 L780.0,319.5 L786.2,321.7 L792.5,323.8 L798.8,325.7 L805.0,327.5 L811.2,329.1 L817.5,330.6 L823.8,331.9 L830.0,333.0 L836.2,334.0 L842.5,334.8 L848.8,335.4 L855.0,336.0 L860.9,336.5 L866.6,337.0 L872.7,337.3 L880.0,337.4 L888.9,337.1 L899.1,336.5 L909.6,335.8 L920.0,335.2 L930.0,334.8 L940.0,334.3 L950.0,334.1 L960.0,334.0 L970.0,334.2 L980.0,334.6 L990.0,335.2 L1000.0,336.0 L1010.0,337.0 L1020.0,338.1 L1030.0,339.5 L1040.0,341.0 L1050.0,342.7 L1060.0,344.7 L1070.0,346.8 L1080.0,349.0 L1090.0,351.3 L1100.0,353.8 L1110.0,356.4 L1120.0,358.7 L1130.0,360.9 L1140.0,362.9 L1150.0,364.9 L1160.0,366.7 L1170.0,368.4 L1180.0,370.0 L1190.0,371.5 L1200.0,373.0 L1210.9,374.7 L1222.5,376.4 L1232.8,377.9 L1240.0,379.0 L1250.0,884.4 L1242.1,881.7 L1230.9,877.9 L1216.8,873.2 L1200.0,867.5 L1179.4,860.7 L1155.3,852.9 L1129.8,844.3 L1105.0,835.5 L1081.2,826.4 L1057.5,816.8 L1033.8,807.0 L1010.0,797.0 L985.8,786.7 L961.2,776.1 L937.3,765.7 L915.0,756.0 L894.8,747.3 L876.2,739.2 L858.3,731.5 L840.0,724.0 L821.2,716.8 L802.5,709.9 L783.8,703.0 L765.0,696.0 L746.1,688.6 L727.2,681.1 L708.4,673.5 L690.0,666.0 L671.9,658.5 L654.1,651.0 L636.7,643.5 L620.0,636.1 L604.3,628.8 L589.4,621.6 L574.8,614.6 L560.0,608.0 L544.8,602.0 L529.4,596.6 L514.3,591.3 L500.0,586.1 L486.8,581.0 L474.4,576.1 L462.3,571.2 L450.0,566.2 L437.5,561.0 L425.0,555.9 L412.5,550.6 L400.0,545.3 L387.1,539.7 L373.9,533.9 L361.3,528.3 L350.0,523.3 L340.6,519.2 L332.5,515.8 L324.9,512.6 L317.0,509.3 L308.5,505.9 L300.0,502.5 L291.5,499.1 L283.0,495.7 L274.3,492.1 L265.4,488.4 L257.1,484.8 L250.0,481.7 L244.7,479.2 L240.6,477.2 L237.1,475.3 L233.3,473.3 L229.1,471.2 L225.0,469.1 L220.9,466.9 L216.7,464.2 L212.3,460.9 L207.8,457.0 L203.6,453.2 L200.0,450.0 L197.4,447.6 L195.5,445.7 L193.8,443.9 L192.0,442.0 L189.8,439.8 L187.6,437.6 L185.4,435.4 L183.3,433.3 L181.4,431.4 L179.6,429.6 L177.8,427.8 L176.0,426.0 L174.0,424.0 L172.0,421.9 L170.0,419.9 L168.0,418.0 L166.0,416.3 L164.1,414.8 L162.1,413.3 L160.0,412.0 L157.7,410.8 L155.2,409.7 L152.7,408.8 L150.0,408.0 L147.3,407.5 L144.7,407.2 L141.7,406.9 L138.3,406.5 L134.2,406.0 L129.6,405.4 L124.7,404.7 L120.0,403.8 L115.4,402.8 L110.9,401.8 L106.3,400.5 L101.7,399.0 L97.1,397.2 L92.5,395.1 L87.9,392.7 L83.3,390.0 L78.7,386.9 L74.1,383.5 L69.6,379.6 L65.0,375.3 L60.3,370.4 L55.5,365.0 L50.9,359.2 L46.7,353.3 L42.9,346.8 L39.3,339.7 L36.2,333.1 L33.8,327.7 L32.4,324.1 L31.7,321.8 L31.4,320.0 L31.0,318.0 L30.5,315.7 L30.0,313.3 L29.7,311.1 L29.5,309.0 L29.5,306.9 L29.7,304.9 L29.9,303.2 L30.0,302.0 Z" fill="url(#gFace)"/>
<g clip-path="url(#cFace)">
<path d="M520,233 C600,243 660,262 705,286 C740,304 790,325 830,332 C870,338 920,336 965,331 L965,346 C900,358 850,356 800,348 C740,338 690,314 640,290 C600,272 560,256 520,246 Z" fill="#83866f" opacity="0.36" filter="url(#blur8)"/>
<path d="M870,336 L965,333 L930,352 L870,352 Z" fill="#7f826c" opacity="0.4" filter="url(#blur8)"/>
<path d="M150,404 C220,408 300,402 380,394 C470,385 560,378 640,378 C700,378 740,372 780,366" fill="none" stroke="#7e816b" stroke-width="18" opacity="0.28" filter="url(#blur8)"/>
<path d="M130,396 C150,398 175,408 200,428" fill="none" stroke="#7a7d68" stroke-width="14" opacity="0.35" filter="url(#blur8)"/>
<path d="M30.0,302.0 L31.6,299.8 L33.9,296.7 L36.8,293.2 L40.0,290.0 L43.6,287.2 L47.6,284.4 L52.0,281.7 L57.0,279.0 L62.4,276.4 L68.2,273.9 L74.6,271.5 L82.0,269.0 L90.3,266.5 L99.4,264.0 L109.4,261.5 L120.0,259.0 L131.7,256.5 L144.2,254.1 L157.2,251.7 L170.0,249.5 L182.5,247.5 L195.0,245.7 L207.5,244.1 L220.0,242.5 L232.5,241.1 L245.0,239.8 L257.5,238.6 L270.0,237.5 L281.8,236.6 L293.1,235.8 L305.4,235.1 L320.0,234.5 L338.0,233.9 L358.4,233.2 L379.6,232.7 L400.0,232.5 L419.7,232.5 L439.4,232.8 L458.1,233.2 L475.0,233.8 L489.3,234.5 L501.6,235.4 L513.1,236.4 L525.0,237.5 L538.0,238.6 L551.2,239.8 L563.9,241.0 L575.0,242.5 L584.0,244.2 L591.6,246.2 L598.3,248.2 L605.0,250.0 L611.6,251.5 L617.8,252.9 L623.9,254.3 L630.0,256.0 L636.2,258.0 L642.5,260.2 L648.8,262.5 L655.0,265.0 L661.2,267.6 L667.5,270.2 L673.8,273.1 L680.0,276.0 L686.2,279.1 L692.5,282.3 L698.8,285.7 L705.0,289.0 L711.2,292.4 L717.5,295.8 L723.8,299.3 L730.0,302.5 L736.2,305.6 L742.5,308.6 L748.8,311.4 L755.0,314.0 L761.2,316.4 L767.5,318.6 L773.8,320.6 L780.0,322.5 L786.2,324.3 L792.5,326.0 L798.8,327.5 L805.0,329.0 L811.2,330.4 L817.5,331.8 L823.8,333.0 L830.0,334.0 L836.2,334.7 L842.5,335.2 L848.8,335.6 L855.0,336.0 L860.9,336.5 L866.6,337.0 L872.7,337.3 L880.0,337.4 L888.9,337.1 L899.1,336.5 L909.6,335.8 L920.0,335.2 L930.0,334.8 L940.0,334.3 L950.0,334.1 L960.0,334.0 L970.0,334.2 L980.0,334.6 L990.0,335.2 L1000.0,336.0 L1010.0,337.0 L1020.0,338.1 L1030.0,339.5 L1040.0,341.0 L1050.0,342.7 L1060.0,344.7 L1070.0,346.8 L1080.0,349.0 L1090.0,351.3 L1100.0,353.8 L1110.0,356.4 L1120.0,358.7 L1130.0,360.9 L1140.0,362.9 L1150.0,364.9 L1160.0,366.7 L1170.0,368.4 L1180.0,370.0 L1190.0,371.5 L1200.0,373.0 L1210.9,374.7 L1222.5,376.4 L1232.8,377.9 L1240.0,379.0" fill="none" stroke="#8a8d78" stroke-width="7" opacity="0.4" filter="url(#blur2)"/>

</g>
<g clip-path="url(#cSil)">
<path d="M29.9,303.2 L29.7,304.9 L29.5,306.9 L29.5,309.0 L29.7,311.1 L30.0,313.3 L30.5,315.7 L31.0,318.0 L31.4,320.0 L31.7,321.8 L32.4,324.1 L33.8,327.7 L36.2,333.1 L39.3,339.7 L42.9,346.8 L46.7,353.3 L50.9,359.2 L55.5,365.0 L60.3,370.4 L65.0,375.3 L69.6,379.6 L74.1,383.5 L78.7,386.9 L83.3,390.0 L87.9,392.7 L92.5,395.1 L97.1,397.2 L101.7,399.0 L106.3,400.5 L110.9,401.8 L115.4,402.8 L120.0,403.8 L124.7,404.7 L129.6,405.4 L134.2,406.0 L138.3,406.5 L141.7,406.9 L144.7,407.2 L147.3,407.5 L150.0,408.0 L152.7,408.8 L155.2,409.7 L157.7,410.8 L160.0,412.0 L162.1,413.3 L164.1,414.8 L166.0,416.3 L168.0,418.0 L170.0,419.9 L172.0,421.9 L174.0,424.0 L176.0,426.0 L177.8,427.8 L179.6,429.6 L181.4,431.4 L183.3,433.3 L185.4,435.4 L187.6,437.6 L189.8,439.8 L192.0,442.0 L193.8,443.9 L195.5,445.7 L197.4,447.6 L200.0,450.0 L203.6,453.2 L207.8,457.0 L212.3,460.9 L216.7,464.2 L220.9,466.9 L225.0,469.1 L229.1,471.2 L233.3,473.3 L237.1,475.3 L240.6,477.2 L244.7,479.2 L250.0,481.7 L257.1,484.8 L265.4,488.4 L274.3,492.1 L283.0,495.7 L291.5,499.1 L300.0,502.5 L308.5,505.9 L317.0,509.3 L324.9,512.6 L332.5,515.8 L340.6,519.2 L350.0,523.3 L361.3,528.3 L373.9,533.9 L387.1,539.7 L400.0,545.3 L412.5,550.6 L425.0,555.9 L437.5,561.0 L450.0,566.2 L462.3,571.2 L474.4,576.1 L486.8,581.0 L500.0,586.1 L514.3,591.3 L529.4,596.6 L544.8,602.0 L560.0,608.0 L574.8,614.6 L589.4,621.6 L604.3,628.8 L620.0,636.1 L636.7,643.5 L654.1,651.0 L671.9,658.5 L690.0,666.0 L708.4,673.5 L727.2,681.1 L746.1,688.6 L765.0,696.0 L783.8,703.0 L802.5,709.9 L821.2,716.8 L840.0,724.0 L858.3,731.5 L876.2,739.2 L894.8,747.3 L915.0,756.0 L937.3,765.7 L961.2,776.1 L985.8,786.7 L1010.0,797.0 L1033.8,807.0 L1057.5,816.8 L1081.2,826.4 L1105.0,835.5 L1129.8,844.3 L1155.3,852.9 L1179.4,860.7 L1200.0,867.5 L1216.8,873.2 L1230.9,877.9 L1242.1,881.7 L1250.0,884.4" fill="none" stroke="#8d907b" stroke-opacity="0.45" stroke-width="14" stroke-linejoin="round" filter="url(#blur2)" clip-path="url(#cFace)"/>
<path d="M29.9,303.2 L29.7,304.9 L29.5,306.9 L29.5,309.0 L29.7,311.1 L30.0,313.3 L30.5,315.7 L31.0,318.0 L31.4,320.0 L31.7,321.8 L32.4,324.1 L33.8,327.7 L36.2,333.1 L39.3,339.7 L42.9,346.8 L46.7,353.3 L50.9,359.2 L55.5,365.0 L60.3,370.4 L65.0,375.3 L69.6,379.6 L74.1,383.5 L78.7,386.9 L83.3,390.0 L87.9,392.7 L92.5,395.1 L97.1,397.2 L101.7,399.0 L106.3,400.5 L110.9,401.8 L115.4,402.8 L120.0,403.8 L124.7,404.7 L129.6,405.4 L134.2,406.0 L138.3,406.5 L141.7,406.9 L144.7,407.2 L147.3,407.5 L150.0,408.0 L152.7,408.8 L155.2,409.7 L157.7,410.8 L160.0,412.0 L162.1,413.3 L164.1,414.8 L166.0,416.3 L168.0,418.0 L170.0,419.9 L172.0,421.9 L174.0,424.0 L176.0,426.0 L177.8,427.8 L179.6,429.6 L181.4,431.4 L183.3,433.3 L185.4,435.4 L187.6,437.6 L189.8,439.8 L192.0,442.0 L193.8,443.9 L195.5,445.7 L197.4,447.6 L200.0,450.0 L203.6,453.2 L207.8,457.0 L212.3,460.9 L216.7,464.2 L220.9,466.9 L225.0,469.1 L229.1,471.2 L233.3,473.3 L237.1,475.3 L240.6,477.2 L244.7,479.2 L250.0,481.7 L257.1,484.8 L265.4,488.4 L274.3,492.1 L283.0,495.7 L291.5,499.1 L300.0,502.5 L308.5,505.9 L317.0,509.3 L324.9,512.6 L332.5,515.8 L340.6,519.2 L350.0,523.3 L361.3,528.3 L373.9,533.9 L387.1,539.7 L400.0,545.3 L412.5,550.6 L425.0,555.9 L437.5,561.0 L450.0,566.2 L462.3,571.2 L474.4,576.1 L486.8,581.0 L500.0,586.1 L514.3,591.3 L529.4,596.6 L544.8,602.0 L560.0,608.0 L574.8,614.6 L589.4,621.6 L604.3,628.8 L620.0,636.1 L636.7,643.5 L654.1,651.0 L671.9,658.5 L690.0,666.0 L708.4,673.5 L727.2,681.1 L746.1,688.6 L765.0,696.0 L783.8,703.0 L802.5,709.9 L821.2,716.8 L840.0,724.0 L858.3,731.5 L876.2,739.2 L894.8,747.3 L915.0,756.0 L937.3,765.7 L961.2,776.1 L985.8,786.7 L1010.0,797.0 L1033.8,807.0 L1057.5,816.8 L1081.2,826.4 L1105.0,835.5 L1129.8,844.3 L1155.3,852.9 L1179.4,860.7 L1200.0,867.5 L1216.8,873.2 L1230.9,877.9 L1242.1,881.7 L1250.0,884.4" fill="none" stroke="url(#gRimA)" stroke-width="5.2" stroke-linejoin="round" filter="url(#blur1)"/>
<path d="M29.9,303.2 L29.7,304.9 L29.5,306.9 L29.5,309.0 L29.7,311.1 L30.0,313.3 L30.5,315.7 L31.0,318.0 L31.4,320.0 L31.7,321.8 L32.4,324.1 L33.8,327.7 L36.2,333.1 L39.3,339.7 L42.9,346.8 L46.7,353.3 L50.9,359.2 L55.5,365.0 L60.3,370.4 L65.0,375.3 L69.6,379.6 L74.1,383.5 L78.7,386.9 L83.3,390.0 L87.9,392.7 L92.5,395.1 L97.1,397.2 L101.7,399.0 L106.3,400.5 L110.9,401.8 L115.4,402.8 L120.0,403.8 L124.7,404.7 L129.6,405.4 L134.2,406.0 L138.3,406.5 L141.7,406.9 L144.7,407.2 L147.3,407.5 L150.0,408.0 L152.7,408.8 L155.2,409.7 L157.7,410.8 L160.0,412.0 L162.1,413.3 L164.1,414.8 L166.0,416.3 L168.0,418.0 L170.0,419.9 L172.0,421.9 L174.0,424.0 L176.0,426.0 L177.8,427.8 L179.6,429.6 L181.4,431.4 L183.3,433.3 L185.4,435.4 L187.6,437.6 L189.8,439.8 L192.0,442.0 L193.8,443.9 L195.5,445.7 L197.4,447.6 L200.0,450.0 L203.6,453.2 L207.8,457.0 L212.3,460.9 L216.7,464.2 L220.9,466.9 L225.0,469.1 L229.1,471.2 L233.3,473.3 L237.1,475.3 L240.6,477.2 L244.7,479.2 L250.0,481.7 L257.1,484.8 L265.4,488.4 L274.3,492.1 L283.0,495.7 L291.5,499.1 L300.0,502.5 L308.5,505.9 L317.0,509.3 L324.9,512.6 L332.5,515.8 L340.6,519.2 L350.0,523.3 L361.3,528.3 L373.9,533.9 L387.1,539.7 L400.0,545.3 L412.5,550.6 L425.0,555.9 L437.5,561.0 L450.0,566.2 L462.3,571.2 L474.4,576.1 L486.8,581.0 L500.0,586.1 L514.3,591.3 L529.4,596.6 L544.8,602.0 L560.0,608.0 L574.8,614.6 L589.4,621.6 L604.3,628.8 L620.0,636.1 L636.7,643.5 L654.1,651.0 L671.9,658.5 L690.0,666.0 L708.4,673.5 L727.2,681.1 L746.1,688.6 L765.0,696.0 L783.8,703.0 L802.5,709.9 L821.2,716.8 L840.0,724.0 L858.3,731.5 L876.2,739.2 L894.8,747.3 L915.0,756.0 L937.3,765.7 L961.2,776.1 L985.8,786.7 L1010.0,797.0 L1033.8,807.0 L1057.5,816.8 L1081.2,826.4 L1105.0,835.5 L1129.8,844.3 L1155.3,852.9 L1179.4,860.7 L1200.0,867.5 L1216.8,873.2 L1230.9,877.9 L1242.1,881.7 L1250.0,884.4" fill="none" stroke="url(#gRimB)" stroke-width="9" stroke-linejoin="round" filter="url(#blur3)"/>
</g>
<g clip-path="url(#cFace)">
<g fill="#cbceb8" fill-opacity="0.9" filter="url(#blur1)">
<ellipse cx="557.0" cy="354.0" rx="9.5" ry="2.4" transform="rotate(8 557.0 354.0)"/>
<ellipse cx="577.0" cy="360.0" rx="9.5" ry="2.4" transform="rotate(8 577.0 360.0)"/>
<ellipse cx="597.0" cy="365.0" rx="9.5" ry="2.4" transform="rotate(8 597.0 365.0)"/>
<ellipse cx="402.0" cy="366.0" rx="9.5" ry="2.4" transform="rotate(8 402.0 366.0)"/>
<ellipse cx="420.0" cy="372.0" rx="9.5" ry="2.4" transform="rotate(8 420.0 372.0)"/>
<ellipse cx="442.0" cy="379.0" rx="9.5" ry="2.4" transform="rotate(8 442.0 379.0)"/>
<ellipse cx="487.0" cy="394.0" rx="9.5" ry="2.4" transform="rotate(8 487.0 394.0)"/>
<ellipse cx="511.0" cy="401.0" rx="9.5" ry="2.4" transform="rotate(8 511.0 401.0)"/>
<ellipse cx="532.0" cy="410.0" rx="9.5" ry="2.4" transform="rotate(8 532.0 410.0)"/>
<ellipse cx="650.0" cy="380.0" rx="9.5" ry="2.4" transform="rotate(8 650.0 380.0)"/>
<ellipse cx="672.0" cy="386.0" rx="9.5" ry="2.4" transform="rotate(8 672.0 386.0)"/>
<ellipse cx="696.0" cy="395.0" rx="9.5" ry="2.4" transform="rotate(8 696.0 395.0)"/>
</g>
<g fill="none" stroke-linecap="butt" filter="url(#blur05)">
<path d="M173.4,382.0L178.0,383.9M182.1,385.5L186.6,387.1M190.9,388.4L195.5,389.7M200.0,390.8L205.1,392.0M210.0,393.1L215.7,394.4" stroke="#4f5340" stroke-width="1.2" stroke-opacity="0.32"/>
<path d="M221.0,395.5L227.1,396.8M232.8,398.1L239.1,399.7M262.8,366.7L268.3,369.7M273.4,372.3L279.0,374.9M284.3,377.1L290.1,379.4M295.7,381.4L301.9,383.3" stroke="#4f5340" stroke-width="1.2" stroke-opacity="0.40"/>
<path d="M57.1,287.7L61.7,291.8M65.9,295.7L70.3,299.8M74.3,303.7L78.7,307.9M82.9,311.8L87.6,316.2M164.2,377.3L169.1,379.9" stroke="#4f5340" stroke-width="1.2" stroke-opacity="0.56"/>
<path d="M241.7,353.7L247.1,357.2M252.1,360.4L257.7,363.8M354.6,355.0L359.8,357.6M364.4,359.8L369.4,362.0M374.1,363.9L379.1,365.8M383.9,367.5L389.2,369.2M394.4,370.8L400.4,372.7" stroke="#4f5340" stroke-width="1.2" stroke-opacity="0.64"/>
<path d="M605.4,259.3L610.7,262.8M615.6,266.1L621.0,269.7" stroke="#4f5340" stroke-width="1.2" stroke-opacity="0.80"/>
<path d="M245.1,401.2L251.7,403.0M258.0,404.8L265.0,407.0M271.7,409.2L279.1,411.9M286.0,414.6L293.6,417.7M300.7,420.7L308.3,424.3M315.4,427.8L323.1,431.7M330.2,435.6L337.8,440.0M307.9,385.0L314.7,386.6M321.2,388.1L328.5,389.8M335.5,391.5L343.2,393.3M350.6,395.2L358.7,397.5M366.3,399.8L374.6,402.6M382.1,405.7L390.3,409.4M397.8,413.0L406.1,417.2" stroke="#4f5340" stroke-width="1.6" stroke-opacity="0.40"/>
<path d="M178.4,412.8L185.0,415.2M191.2,417.5L198.0,420.2M204.3,422.8L211.3,425.9M217.8,429.0L224.9,432.7M47.3,279.5L52.6,283.8M92.1,320.4L97.3,325.2M102.8,330.0L109.0,335.3M115.0,340.4L121.7,345.9M127.9,350.9L134.6,356.3M140.8,361.1L147.4,366.0M153.3,370.3L159.3,374.4M344.8,444.3L352.3,449.1M359.3,453.7L366.8,458.7M373.9,463.4L381.6,468.5M128.6,260.0L133.9,264.5M138.8,268.7L144.0,273.4M148.8,277.6L154.1,282.1M158.9,286.4L164.1,290.9M169.0,295.1L174.2,299.7M179.1,304.0L184.5,308.6M189.4,312.8L194.9,317.4M199.9,321.7L205.3,326.2M210.4,330.4L215.9,334.8M209.6,246.0L215.4,250.3" stroke="#4f5340" stroke-width="1.6" stroke-opacity="0.56"/>
<path d="M231.6,436.5L238.9,440.9M245.7,445.2L253.3,449.9M260.4,454.4L268.2,459.3M221.0,338.7L226.4,342.9M231.4,346.5L236.8,350.3M220.6,254.3L226.3,258.8M231.4,262.9L236.9,267.4M242.1,271.5L247.6,275.9M252.7,280.1L258.3,284.6M263.4,288.8L269.0,293.3M274.1,297.5L279.8,302.1M285.1,306.3L291.0,311.0M296.5,315.3L302.6,320.0M308.3,324.3L314.5,328.9M320.3,333.0L326.5,337.4M332.2,341.3L338.3,345.3M343.8,348.8L349.6,352.2M406.7,374.5L413.9,376.7M289.6,234.8L296.0,239.0M301.8,242.7L308.0,246.6M313.5,250.3L319.5,254.2M324.9,257.9L330.7,262.0M335.9,265.9L341.4,270.2M346.5,274.2L351.9,278.6M357.0,282.7L362.6,287.2M367.8,291.4L373.6,296.0M379.0,300.3L385.0,305.0M390.8,309.3L397.3,314.1M403.4,318.4L410.1,323.1M382.7,233.9L389.0,238.1M394.9,242.0L401.2,246.4M407.1,250.5L413.4,254.9" stroke="#4f5340" stroke-width="1.6" stroke-opacity="0.64"/>
<path d="M420.8,378.8L428.6,381.2M435.8,383.4L443.8,386.0M451.2,388.5L459.2,391.4M466.8,394.2L475.1,397.5M416.3,327.3L423.2,331.7M429.5,335.6L436.5,339.7M442.8,343.2L449.7,346.8M455.9,349.6L462.6,352.4M468.8,354.8L475.5,357.2M481.9,359.2L488.8,361.4M495.3,363.2L502.5,365.2M509.3,367.0L516.5,368.9M523.1,370.7L530.2,372.7M536.9,374.6L544.2,376.7M551.2,378.8L558.9,381.2M566.1,383.5L574.1,386.2M581.5,388.9L589.5,391.9M419.3,258.9L425.7,263.3M431.6,267.3L438.0,271.7M443.9,275.8L450.3,280.2M456.2,284.3L462.6,288.8M468.5,293.0L474.8,297.5M480.7,301.7L487.1,306.2M493.0,310.4L499.4,314.8M505.4,318.8L511.9,323.0M517.9,326.7L524.5,330.6M530.7,334.0L537.6,337.4M544.2,340.3L551.5,343.2M558.3,345.7L565.7,348.2M572.6,350.4L580.0,352.6M587.0,354.5L594.4,356.4M481.0,237.8L487.4,241.9M493.4,245.8L499.9,250.0M505.8,253.8L512.2,258.1M518.2,262.0L524.6,266.2M530.5,270.2L537.0,274.4M543.0,278.3L549.6,282.6M555.6,286.6L562.3,291.0M568.3,295.1L575.0,299.5M581.2,303.6L588.0,308.1M594.4,312.0L601.5,316.3M583.5,244.8L589.6,248.8M594.9,252.3L600.4,255.9" stroke="#4f5340" stroke-width="1.6" stroke-opacity="0.72"/>
<path d="M596.6,394.9L604.3,398.3M611.5,401.6L619.3,405.3M626.6,408.9L634.7,412.9M601.4,358.2L609.0,360.0M616.2,361.7L624.1,363.6M631.3,365.4L639.2,367.4M646.5,369.3L654.4,371.5M661.7,373.5L669.6,375.9M677.0,378.3L685.1,381.0M692.8,383.8L701.3,387.1M608.1,320.0L615.4,323.9M622.2,327.4L629.7,330.9M636.6,333.8L644.0,336.7M651.0,339.2L658.6,341.7M665.8,343.8L673.7,345.9M681.0,347.6L689.1,349.4M696.6,350.9L704.8,352.5M712.3,353.9L720.5,355.3M728.2,356.7L736.5,358.1M744.3,359.5L752.7,361.2M760.6,362.7L769.2,364.6M777.1,366.5L785.6,368.8M626.0,273.1L631.5,276.8M636.7,280.2L642.7,284.1M648.6,287.8L655.4,292.0M661.8,295.9L668.9,300.2M675.6,304.1L683.0,308.2M689.9,311.9L697.5,315.8M704.6,319.3L712.4,322.8M719.8,325.6L727.9,328.5M735.4,330.9L743.6,333.4M751.3,335.4L759.7,337.5M767.4,339.3L775.9,341.0M783.8,342.4L792.3,343.7" stroke="#4f5340" stroke-width="1.6" stroke-opacity="0.80"/>
<path d="M793.4,371.2L801.8,374.0M800.3,344.6L808.9,345.3" stroke="#4f5340" stroke-width="1.6" stroke-opacity="0.88"/>
<path d="M326.4,490.2L336.1,494.3M345.3,498.1L355.3,502.1M364.7,505.7L374.9,509.6M384.4,513.1L394.6,517.0M413.8,421.2L422.2,425.8M430.0,430.2L438.4,435.1M446.2,439.8L454.6,444.8" stroke="#4f5340" stroke-width="2.0" stroke-opacity="0.40"/>
<path d="M404.0,520.6L414.0,524.4M423.3,528.0L433.4,531.9M442.7,535.5L452.9,539.3M462.2,542.9L472.3,546.7M481.6,550.1L491.5,553.8M500.3,557.1L509.8,560.7M518.4,563.9L527.8,567.4M536.6,570.7L546.2,574.3M555.2,577.6L565.2,581.4M574.5,584.9L584.9,588.8M594.7,592.7L605.6,597.1M615.9,601.2L627.2,605.8M638.0,610.1L649.8,614.8M661.0,619.3L673.3,624.2M685.0,628.9L698.0,634.0" stroke="#4f5340" stroke-width="2.0" stroke-opacity="0.48"/>
<path d="M275.5,463.8L283.7,468.7M291.4,473.1L300.0,477.8M308.3,482.0L317.6,486.3M388.8,473.2L396.7,478.1M404.2,482.6L412.4,487.3M420.3,491.3L429.0,495.5M437.2,499.2L446.2,503.1M454.6,506.6L463.7,510.3M472.3,513.6L481.7,517.2M490.4,520.4L500.1,524.0M509.2,527.3L519.3,530.8M528.7,534.1L538.9,537.7M548.2,541.1L558.4,544.7M567.7,548.0L577.9,551.7" stroke="#4f5340" stroke-width="2.0" stroke-opacity="0.64"/>
<path d="M587.2,555.1L597.5,558.8M607.1,562.2L617.7,566.0M627.5,569.6L638.2,573.5M648.1,577.1L659.0,581.1M669.2,584.9L680.3,589.1M690.8,593.0L702.5,597.4M713.7,601.6L726.1,606.2M737.8,610.5L750.8,615.3M763.0,619.8L776.3,624.8M788.9,629.5L802.7,634.7M462.0,449.4L469.9,454.3M477.3,458.9L485.3,463.8M492.7,468.4L500.9,473.2M508.6,477.6L517.0,482.3M525.0,486.5L533.8,490.8M542.1,494.5L551.3,498.3M559.9,501.6L569.5,505.2M578.4,508.3L588.3,511.7M482.9,400.7L491.5,404.4M499.5,408.0L508.1,412.1M516.1,416.0L524.7,420.3M532.7,424.4L541.3,429.0M549.3,433.2L558.0,438.0M566.1,442.5L575.1,447.3M583.4,451.9L592.4,456.7" stroke="#4f5340" stroke-width="2.0" stroke-opacity="0.72"/>
<path d="M597.5,514.8L607.6,518.1M616.9,521.1L627.1,524.4M636.2,527.5L646.1,530.9M655.3,534.1L665.3,537.5M674.7,540.8L684.9,544.4M694.5,547.8L705.1,551.5M714.9,554.9L725.7,558.7M735.7,562.1L746.8,565.9M757.1,569.4L768.5,573.3M600.8,461.1L609.9,465.8M618.4,470.0L627.7,474.4M636.4,478.3L646.0,482.3M655.1,485.7L665.1,489.2M674.4,492.3L684.6,495.5M694.1,498.3L704.5,501.3M714.1,504.0L724.6,506.9M734.2,509.6L744.7,512.6M754.4,515.6L764.9,519.0M774.6,522.2L785.2,525.7M642.3,416.7L650.7,421.0M658.6,425.0L667.4,429.4M675.6,433.6L684.7,438.1M693.3,442.2L702.8,446.7M711.6,450.9L721.4,455.2M730.5,459.2L740.4,463.3M749.6,467.0L759.6,470.8M768.7,474.1L778.6,477.5M709.3,390.2L718.0,393.8M726.1,397.3L734.9,401.2M743.1,405.0L752.2,409.1M760.6,413.1L769.9,417.5M778.5,421.6L788.1,426.2" stroke="#4f5340" stroke-width="2.0" stroke-opacity="0.80"/>
<path d="M874.8,609.5L888.0,614.1M900.4,618.4L914.0,623.2M795.1,529.0L805.9,532.6M787.8,480.5L797.8,483.6M807.1,486.4L817.2,489.3M826.7,492.0L837.0,494.9M797.0,430.4L806.8,435.0M815.9,439.2L825.8,443.6M809.5,376.8L818.0,380.1M826.0,383.4L834.7,387.1M842.9,390.6L851.9,394.7M816.9,345.9L825.7,346.5M833.8,347.1L842.6,347.8M850.7,348.5L859.6,349.5M867.8,350.6L876.8,352.2M885.0,354.0L893.9,356.4" stroke="#4f5340" stroke-width="2.0" stroke-opacity="0.88"/>
<path d="M710.4,638.9L724.2,644.4M737.2,649.5L751.4,655.1M764.8,660.3L779.4,665.9M793.0,671.2L807.8,676.9M821.6,682.1L836.4,687.9M849.8,693.1L864.2,698.8M877.6,704.0L892.2,709.7M905.9,715.0L920.9,720.8M935.0,726.2L950.7,732.2M1219.3,831.9L1236.1,838.0" stroke="#4f5340" stroke-width="2.4" stroke-opacity="0.56"/>
<path d="M815.5,639.5L829.5,644.8M842.5,649.6L856.5,654.9M869.6,659.8L884.0,665.2M897.4,670.2L912.1,675.7M925.9,680.9L941.0,686.6M955.3,692.0L971.1,697.9M986.3,703.4L1003.1,709.4M779.2,576.9L791.0,580.9" stroke="#4f5340" stroke-width="2.4" stroke-opacity="0.80"/>
<path d="M802.1,584.6L814.3,588.7M825.8,592.6L838.4,596.9M850.1,600.9L862.8,605.3M926.7,627.7L940.8,632.6M954.1,637.2L968.7,642.3M982.6,646.8L997.9,651.8M1012.3,656.5L1028.0,661.6M1042.8,666.3L1058.9,671.6M1073.9,676.6L1090.3,682.1M1105.5,687.2L1122.0,692.9M1137.1,698.3L1153.4,704.3M1168.5,709.8L1184.9,715.9M1200.1,721.5L1216.6,727.7M1231.9,733.3L1248.4,739.5M816.0,535.9L827.1,539.6M837.4,543.0L848.8,546.7M859.5,550.1L871.4,553.8M882.4,557.2L894.6,560.9M906.0,564.4L918.5,568.1M930.3,571.6L943.2,575.5M955.3,579.0L968.7,582.9M981.4,586.5L995.3,590.4M1008.4,594.1L1022.8,598.1M1036.2,601.9L1050.9,606.0M1064.6,609.9L1079.5,614.3M1093.5,618.4L1108.6,623.1M1122.6,627.7L1137.8,632.9M1152.0,637.8L1167.4,643.3M1181.6,648.4L1197.2,654.0M1211.6,659.3L1227.2,665.0M1241.7,670.4L1257.4,676.2M846.7,497.5L857.3,500.5M867.3,503.2L878.2,506.2M888.4,509.1L899.6,512.3M910.1,515.2L921.6,518.5M932.4,521.5L944.3,524.9M1004.4,541.5L1017.7,545.1M1030.1,548.5L1043.8,552.1M1056.5,555.6L1070.5,559.3M1083.5,562.8L1097.6,566.7M1110.7,570.3L1125.0,574.3M1138.2,578.1L1152.6,582.3M1166.0,586.2L1180.6,590.5M1194.1,594.6L1208.8,599.2M1222.4,603.4L1237.3,608.2M835.1,447.6L845.2,451.8M854.6,455.5L864.9,459.3M874.5,462.5L885.1,465.8M894.9,468.7L905.6,471.6M1179.3,542.1L1193.3,545.8M1206.4,549.3L1220.5,553.2M1233.6,556.8L1247.8,560.8M860.5,398.6L869.9,403.0M879.0,407.2L889.0,411.9M898.4,416.2L908.8,420.9M902.1,358.9L911.2,361.8M919.6,364.7L928.9,368.1M937.5,371.4L947.1,375.2M956.0,378.8L965.9,382.9M973.6,335.5L983.1,337.3M992.0,339.0L1001.7,341.1M1010.8,343.2L1020.7,345.5M1030.0,347.8L1040.1,350.5" stroke="#4f5340" stroke-width="2.4" stroke-opacity="0.88"/>
<path d="M965.6,737.9L982.6,744.3M999.5,750.6L1018.5,757.8M1036.5,764.6L1056.3,772.0M1074.6,778.8L1094.5,786.2M1112.8,793.0L1132.4,800.2M1150.3,806.8L1169.2,813.7M1185.9,819.8L1203.4,826.1" stroke="#4f5340" stroke-width="2.8" stroke-opacity="0.56"/>
<path d="M1018.9,715.1L1036.3,721.3M1052.5,727.1L1070.3,733.5M1086.7,739.5L1104.7,746.0M1121.3,752.0L1139.2,758.4M1155.4,764.1L1172.7,770.1M1188.6,775.7L1205.9,781.6M1221.8,787.2L1239.0,793.1" stroke="#4f5340" stroke-width="2.8" stroke-opacity="0.80"/>
<path d="M955.5,528.0L967.8,531.5M979.5,534.7L992.3,538.2M915.6,474.2L926.5,476.9M936.7,479.3L947.9,481.9M958.3,484.4L969.7,487.1M980.4,489.8L992.1,492.9M1003.0,495.8L1014.9,499.0M1026.1,502.0L1038.3,505.4M1049.7,508.5L1062.3,511.9M1074.0,515.0L1087.0,518.5M1099.3,521.6L1112.9,525.1M1125.6,528.3L1139.4,531.8M1152.3,535.1L1166.3,538.7M918.5,425.3L929.1,429.9M939.0,434.1L949.8,438.5M959.8,442.3L970.6,446.3M980.4,449.6L991.0,452.9M1000.9,455.7L1011.6,458.7M1021.7,461.3L1032.8,464.1M1043.2,466.6L1054.8,469.2M1065.7,471.7L1078.0,474.4M1168.8,493.5L1183.1,496.6M1196.2,499.6L1210.3,502.9M1222.9,506.0L1236.2,509.5M975.2,386.7L985.5,391.0M995.2,395.0L1005.8,399.4M1015.6,403.5L1026.5,407.8M1036.5,411.8L1047.5,416.1M1057.7,419.8L1068.6,423.6M1078.7,426.7L1089.5,429.7M1099.6,432.4L1110.6,435.1M1120.9,437.5L1132.2,440.1M1142.8,442.4L1154.5,445.0M1165.6,447.4L1178.0,450.1M1049.5,353.1L1059.8,356.1M1069.4,359.1L1079.9,362.5M1089.7,365.7L1100.3,369.2M1110.3,372.6L1121.1,376.2M1131.2,379.5L1142.3,383.1M1152.6,386.4L1163.8,390.0M1174.4,393.4L1186.0,397.1M1196.8,400.5L1208.6,404.1M1219.6,407.4L1231.7,411.0" stroke="#4f5340" stroke-width="2.8" stroke-opacity="0.88"/>
<path d="M1089.7,476.9L1102.8,479.6M1115.2,482.1L1128.8,485.0M1141.7,487.6L1155.7,490.6M1189.9,452.8L1203.1,455.9M1215.5,458.9L1229.2,462.2" stroke="#4f5340" stroke-width="3.2" stroke-opacity="0.88"/>
<path d="M126.0,374.5L147.1,374.9M159.4,374.4Q169.0,373.4 177.9,371.6M105.8,391.7L126.7,392.4M139.4,392.8L160.0,393.0M172.5,393.0L192.8,392.6M205.2,392.0L225.6,390.8M238.0,389.9L258.1,388.1M270.3,386.9L290.0,384.8M302.0,383.4L321.7,380.8M333.8,379.3L353.8,376.9M366.2,375.5L387.1,373.6M160.3,406.9L181.5,407.0M374.8,402.7L395.5,401.8" stroke="#585c46" stroke-width="1.6" stroke-opacity="0.08"/>
<path d="M52.7,283.9L72.1,281.7M83.7,280.3L102.5,278.0M113.9,276.6L132.6,274.6M144.1,273.4L163.1,271.8M174.8,270.9L194.0,269.7M205.8,269.0L225.1,268.0M237.1,267.5L256.7,266.5M34.9,330.8L54.6,329.5M66.5,328.5L85.6,326.5M97.4,325.3L117.7,323.8M130.2,322.9L150.4,321.3M162.8,320.3L182.8,318.5M195.0,317.5L214.8,315.9M226.9,315.0L246.8,313.7M188.8,369.3L206.4,365.3M217.4,362.9L235.6,359.1M516.7,369.0L537.2,367.5M549.2,366.4L567.9,364.5M407.9,401.2L428.1,400.1M440.7,399.4L461.8,398.3M589.6,392.0L610.6,390.2M622.9,388.9L642.3,386.7" stroke="#585c46" stroke-width="1.6" stroke-opacity="0.16"/>
<path d="M268.8,265.9L288.5,264.8M300.4,264.1L319.5,262.9M330.8,262.1L348.5,260.7M359.0,259.8L375.9,258.3M386.2,257.3L403.1,255.8M259.0,313.0L278.9,311.8M291.1,311.1L311.1,310.0M323.2,309.4L342.8,308.2M354.6,307.4L373.6,306.0M385.1,305.1L404.0,303.6M247.2,357.2L267.2,355.2M279.8,354.3L301.1,353.4M349.7,352.3L370.9,351.2M383.8,350.5L404.7,349.4M394.8,517.0L415.7,518.6M491.7,553.9L512.8,555.0M525.6,555.7L546.9,556.7" stroke="#585c46" stroke-width="1.6" stroke-opacity="0.24"/>
<path d="M413.5,254.9L431.0,253.5M441.8,252.7L459.6,251.6M470.6,251.1L488.8,250.3M500.0,250.0L518.4,249.8M529.8,249.7L548.5,249.7M559.9,249.6L578.5,249.3M415.5,302.7L434.1,301.2M445.4,300.2L463.7,298.5M475.0,297.6L493.2,296.1M504.4,295.3L522.6,293.9M533.7,293.1L551.6,291.8M562.4,291.1L579.3,290.0M417.4,348.8L437.7,347.6M449.8,346.8L468.7,344.9M479.9,343.7L497.8,341.6M508.7,340.4L526.6,338.5M537.7,337.4L556.7,335.7M568.5,334.8L587.9,333.4M579.2,363.3L597.7,361.2M489.7,443.4L510.7,442.0M523.6,440.9L544.8,439.2M428.6,519.6L449.8,521.2M698.2,634.1L723.8,636.3" stroke="#585c46" stroke-width="1.6" stroke-opacity="0.32"/>
<path d="M589.7,248.8L607.3,247.4M589.5,289.3L605.9,288.0M615.9,287.0L632.4,285.3M642.8,284.2L660.9,282.4M672.3,281.3L691.1,279.0M599.7,332.7L618.6,331.6M629.9,330.9L647.4,329.6M657.9,328.8L674.8,327.3M685.1,326.3L702.0,324.3M712.6,322.8L730.3,319.5M741.3,317.2L759.8,313.1M609.2,360.0L628.6,358.3M640.8,357.3L660.9,355.7M673.2,354.8L693.0,353.4M704.9,352.5L723.7,351.1M735.0,350.2L753.1,348.7M654.1,385.2L673.2,382.6M685.2,381.1L705.7,378.7M718.4,377.3L739.5,374.9M702.6,425.9L723.8,423.5M736.6,421.9L757.3,419.2M1237.6,608.3L1263.1,605.5" stroke="#585c46" stroke-width="1.6" stroke-opacity="0.40"/>
<path d="M764.0,347.6L781.7,345.4M752.4,373.3L773.3,370.6" stroke="#585c46" stroke-width="1.6" stroke-opacity="0.48"/>
<path d="M56.5,370.4L78.1,371.9M91.3,372.7L112.9,373.9M194.6,407.1L216.2,407.2M229.5,407.2L251.5,407.2M265.1,407.0L288.0,406.7M302.1,406.4L325.1,405.5M339.1,404.8L361.5,403.5" stroke="#585c46" stroke-width="2.0" stroke-opacity="0.08"/>
<path d="M400.5,372.7L424.5,371.8M439.6,371.5L464.3,370.9M479.3,370.5L502.9,369.7M475.2,397.6L498.4,396.6M513.0,396.0L537.3,395.0M552.1,394.3L575.7,393.0M225.0,432.8L247.3,433.9" stroke="#585c46" stroke-width="2.0" stroke-opacity="0.16"/>
<path d="M314.4,353.0L336.3,352.6M261.2,434.9L284.5,436.5M299.0,437.5L323.0,439.1M337.9,440.1L362.3,441.7M377.3,442.6L401.8,443.9M300.2,477.9L322.3,479.6M336.2,480.7L359.3,482.7M373.7,484.0L397.6,486.2" stroke="#585c46" stroke-width="2.0" stroke-opacity="0.24"/>
<path d="M416.7,444.4L440.5,444.9M454.7,444.9L476.6,444.1M558.1,438.1L580.5,436.4M412.6,487.4L437.7,488.8M453.2,489.5L478.6,490.4M494.1,490.8L519.0,491.0M534.0,490.8L558.0,489.8M572.3,488.8L595.4,487.0M463.2,522.1L485.8,523.3M500.3,524.0L525.4,525.0M541.4,525.4L568.0,525.8M560.3,557.4L583.1,558.3M597.7,558.8L622.9,559.6M639.0,559.9L665.7,560.1M682.3,560.0L709.5,559.4M725.9,558.7L752.2,557.0M585.1,588.9L608.1,590.7M622.6,591.8L646.6,593.8M661.6,595.0L686.8,596.6M702.7,597.5L729.9,598.6M747.1,598.9L775.4,599.1M740.0,637.8L767.1,640.3" stroke="#585c46" stroke-width="2.0" stroke-opacity="0.32"/>
<path d="M594.4,435.4L617.3,433.8M631.3,432.7L653.9,430.8M667.5,429.5L689.4,427.3M609.4,485.8L632.1,483.7M646.2,482.4L669.6,479.9M684.1,478.4L707.8,476.0M722.3,474.6L745.7,472.3M584.4,525.7L611.2,525.2M627.3,524.5L652.5,522.9M667.6,521.6L691.9,519.1M706.6,517.4L730.4,514.5M744.9,512.7L768.3,510.2M792.9,598.8L821.4,597.9M838.6,597.0L866.2,594.9M882.8,593.3L909.7,590.4M926.1,588.5L952.6,585.1M968.9,583.0L995.8,579.4M1012.3,577.3L1039.1,573.9M1055.5,571.8L1081.9,568.6M1097.9,566.7L1123.6,563.8M1139.2,562.1L1164.6,559.4M1180.1,557.7L1205.3,555.0M1220.8,553.3L1246.0,550.4M784.1,641.8L812.3,643.9M829.8,644.9L858.2,645.8M875.7,646.0L904.5,645.8M922.2,645.2L951.1,643.7M969.0,642.4L998.4,639.2M1016.4,636.9L1045.6,632.8M1063.3,630.1L1091.7,625.7M1108.9,623.2L1136.3,619.7M1152.8,617.8L1179.5,614.7M1195.7,612.9L1221.7,610.0M836.6,688.0L863.0,690.2M879.5,691.6L907.0,694.0M924.3,695.4L953.2,697.2M971.4,698.0L1002.5,698.6M1021.9,698.5L1053.5,697.7M1072.7,696.7L1103.7,694.6M1122.3,693.1L1151.5,690.2M1169.0,688.2L1197.1,684.7M1214.0,682.4L1241.2,678.7M982.9,744.4Q997.6,745.6 1013.7,747.4M1139.6,758.5Q1155.2,759.0 1170.1,758.7M1188.3,758.2L1217.4,756.8M1235.0,755.5L1263.3,753.0M1169.5,813.8L1197.5,814.8M1214.5,815.3L1242.5,815.9" stroke="#585c46" stroke-width="2.0" stroke-opacity="0.40"/>
<path d="M792.5,343.8L810.2,340.0M821.1,337.4L839.1,332.9M785.8,368.9L805.4,366.0M817.1,364.1L836.0,360.8M847.4,358.5L865.8,354.6M876.9,352.2L894.9,348.7M770.0,417.5L790.9,414.9M803.6,413.2L824.4,410.3M837.1,408.4L857.6,405.2M759.8,470.9L782.1,468.4M795.4,466.9L817.1,464.5" stroke="#585c46" stroke-width="2.0" stroke-opacity="0.48"/>
<path d="M768.0,555.7L793.5,553.3" stroke="#585c46" stroke-width="2.4" stroke-opacity="0.32"/>
<path d="M808.9,551.6L833.8,548.7M849.0,546.8L873.8,543.6M889.0,541.6L913.6,538.4M928.6,536.4L953.1,533.3M968.1,531.5L992.6,528.7M1007.6,527.0L1032.1,524.4M1047.2,522.8L1071.9,520.2M1170.9,508.7L1195.9,505.2M1210.6,503.0L1232.5,499.1M1033.5,749.5L1066.5,753.0M1086.8,754.9L1119.8,757.5" stroke="#585c46" stroke-width="2.4" stroke-opacity="0.40"/>
<path d="M905.9,346.5L923.9,342.7M935.0,340.4L953.5,336.4M870.1,403.1L890.6,399.6M903.0,397.4L922.9,393.4M934.9,390.7L954.3,386.1M966.1,383.0L985.4,377.6M997.2,374.1L1016.5,368.4M1028.3,364.9L1047.9,359.3M1060.0,356.1L1080.0,351.6M830.3,463.0L851.8,460.8M865.1,459.4L887.0,456.9M900.4,455.3L922.5,452.7M970.8,446.3L991.5,442.5M1004.0,439.9L1024.2,435.3M1036.6,432.4L1056.7,427.2M1068.8,423.7L1088.3,416.8M1100.2,412.4L1119.7,405.1M1131.8,400.7L1151.7,393.9M782.6,508.7L805.9,506.2M820.1,504.7L843.3,502.1M857.5,500.5L880.8,497.8M1112.7,467.5L1133.4,462.5M1145.8,459.2L1165.9,453.6" stroke="#585c46" stroke-width="2.4" stroke-opacity="0.48"/>
<path d="M1087.3,518.5L1113.1,515.7M1129.1,513.8L1155.1,510.7" stroke="#585c46" stroke-width="2.8" stroke-opacity="0.40"/>
<path d="M935.9,451.1L957.7,448.3M1164.1,390.1L1184.7,384.5M1197.5,381.5L1218.6,376.9M895.0,496.2L918.3,493.4M932.5,491.6L955.8,488.8M970.0,487.2L993.0,484.9M1007.0,483.6L1029.5,481.2M1043.2,479.6L1065.0,476.6M1078.2,474.4L1099.7,470.4M1178.2,450.2L1199.0,444.8M1211.9,441.6L1232.9,436.3" stroke="#585c46" stroke-width="2.8" stroke-opacity="0.48"/>
</g>
</g>
</g>
<g class="ann">
<path d="M168.3,580 V357 H491.5" />
<circle cx="502" cy="357" r="10.2" />
<path d="M479.5,755 V437.5 H700.3" />
<circle cx="710.5" cy="437.5" r="10.2" />
<path d="M781.2,940 V602 H1057.8" />
<circle cx="1068" cy="602" r="10.2" />
</g>
<text class="h" x="9.0" y="639.5" font-size="55.8" textLength="274.0" lengthAdjust="spacingAndGlyphs">NEUTRAL TRUCK</text>
<text class="h" x="9.0" y="707.0" font-size="55.8" textLength="292.5" lengthAdjust="spacingAndGlyphs">MOUNTING ANGLE</text>
<text class="b" transform="translate(9.0,746.0) scale(1.045,1)" textLength="272.2" lengthAdjust="spacing">Delivers a pure, unfiltered</text>
<text class="b" transform="translate(9.0,772.0) scale(1.045,1)" textLength="290.4" lengthAdjust="spacing">board feel—every sensation</text>
<text class="b" transform="translate(9.0,798.5) scale(1.045,1)" textLength="308.6" lengthAdjust="spacing">becomes part of the dialogue</text>
<text class="b" transform="translate(9.0,824.5) scale(1.045,1)" textLength="255.0" lengthAdjust="spacing">between rider and deck.</text>
<text class="h" x="374.5" y="816.5" font-size="55.8" textLength="210.5" lengthAdjust="spacingAndGlyphs">MICRO-DROP</text>
<text class="h" x="374.5" y="884.0" font-size="55.8" textLength="180.5" lengthAdjust="spacingAndGlyphs">PLATFORM</text>
<text class="b" transform="translate(374.5,922.5) scale(1.045,1)" textLength="284.2" lengthAdjust="spacing">Subtle ergonomic contours</text>
<text class="b" transform="translate(374.5,948.5) scale(1.045,1)" textLength="221.5" lengthAdjust="spacing">for locked-in control.</text>
<text class="h" x="703.5" y="998.0" font-size="55.8" textLength="139.5" lengthAdjust="spacingAndGlyphs">“W” TUB</text>
<text class="h" x="703.5" y="1067.0" font-size="55.8" textLength="157.0" lengthAdjust="spacingAndGlyphs">CONCAVE</text>
<text class="b" transform="translate(703.5,1106.0) scale(1.045,1)" textLength="434.9" lengthAdjust="spacing">Tub concave transitions into a subtle “W”</text>
<text class="b" transform="translate(703.5,1133.0) scale(1.045,1)" textLength="449.8" lengthAdjust="spacing">in the middle, creating a locked-in footbed</text>
<text class="b" transform="translate(703.5,1159.0) scale(1.045,1)" textLength="447.8" lengthAdjust="spacing">for powerful slides and confident freestyle</text>
<text class="b" transform="translate(703.5,1185.0) scale(1.045,1)" textLength="64.1" lengthAdjust="spacing">tricks.</text>
</svg>
</body>
</html>
